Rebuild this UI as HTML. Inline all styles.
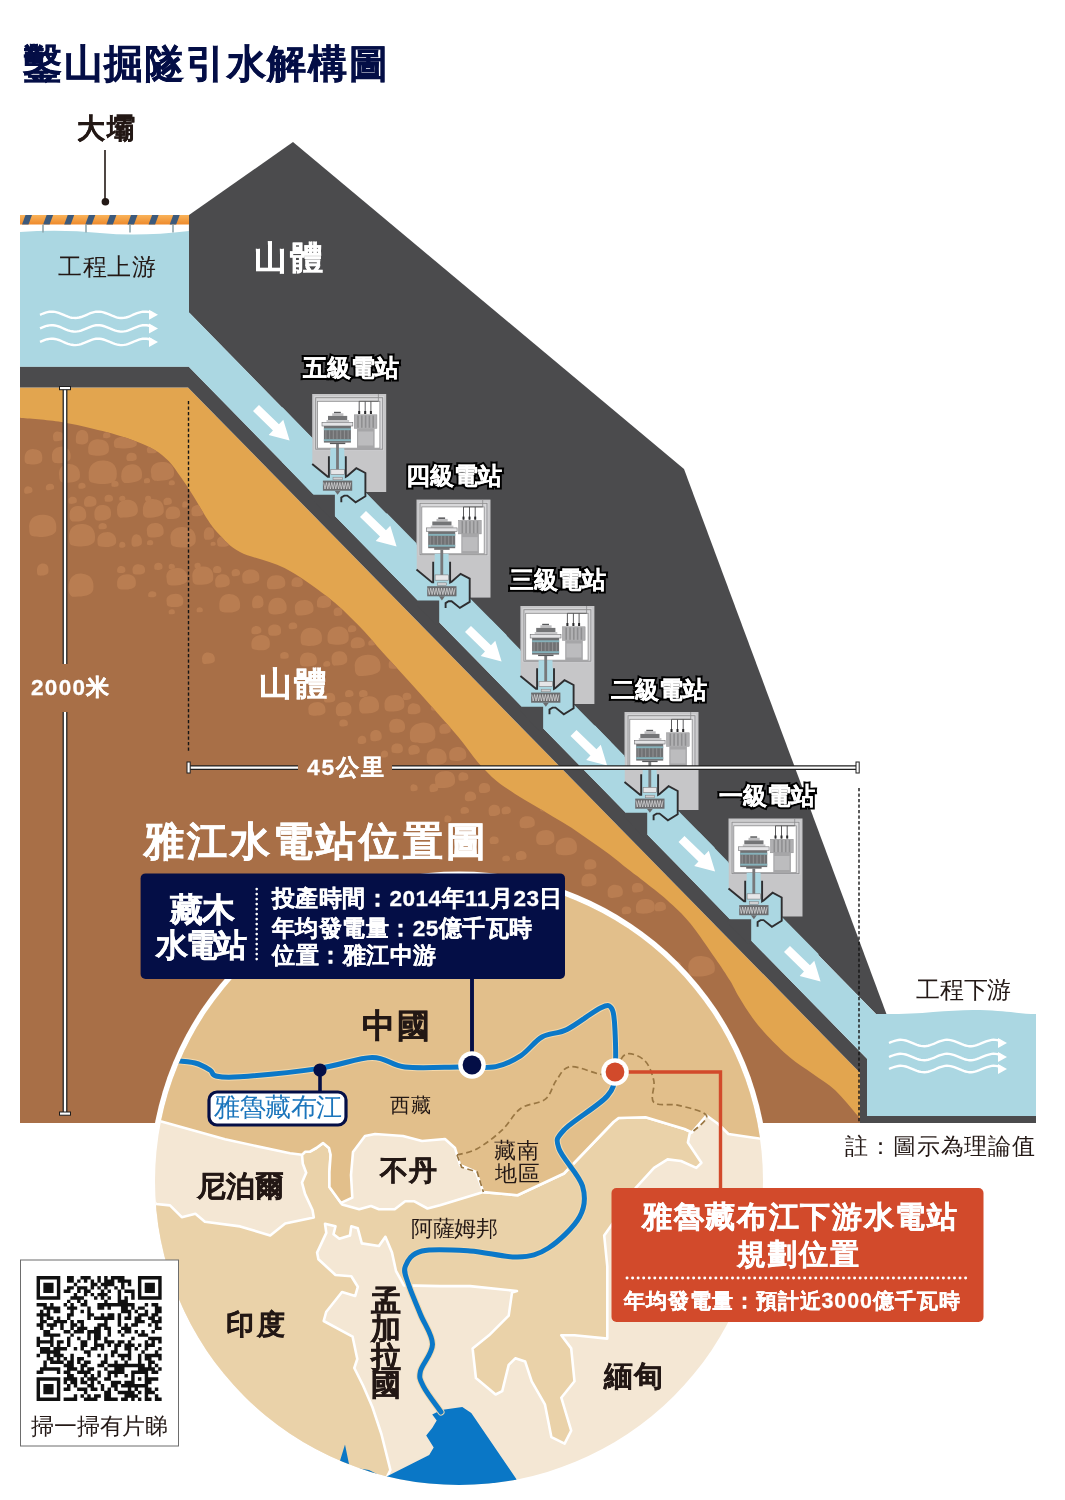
<!DOCTYPE html>
<html><head><meta charset="utf-8"><style>
html,body{margin:0;padding:0;background:#fff;}
body{width:1065px;height:1500px;position:relative;overflow:hidden;font-family:"Liberation Sans",sans-serif;}
svg{position:absolute;left:0;top:0;}
.t{position:absolute;white-space:nowrap;line-height:1;will-change:transform;}
</style></head><body>
<svg width="1065" height="1500" viewBox="0 0 1065 1500">
<defs><linearGradient id="og" x1="0" y1="0" x2="0" y2="1"><stop offset="0" stop-color="#f9b35a"/><stop offset="1" stop-color="#ee8a2c"/></linearGradient>
<clipPath id="circ"><circle cx="459" cy="1181" r="304"/></clipPath>
<clipPath id="brownclip"><path d="M20.0,417.7 C26.9,418.4 47.5,419.7 61.3,421.9 C75.1,424.1 90.5,428.0 102.6,431.1 C114.6,434.2 125.0,437.3 133.6,440.4 C142.2,443.5 148.5,446.2 154.3,449.7 C160.2,453.1 164.2,456.5 168.7,461.1 C173.2,465.8 177.0,471.8 181.1,477.6 C185.2,483.5 189.4,489.6 193.5,496.2 C197.6,502.8 201.8,510.7 205.9,516.9 C210.0,523.1 212.6,527.5 218.3,533.4 C224.0,539.2 229.0,546.2 240.0,552.0 C251.0,557.8 270.0,560.6 284.5,568.0 C299.0,575.4 314.6,586.9 326.8,596.3 C339.0,605.7 348.3,615.1 357.7,624.5 C367.1,633.9 374.5,643.3 383.0,652.7 C391.5,662.1 400.0,671.4 408.5,680.8 C417.0,690.2 425.4,699.5 433.8,709.0 C442.2,718.5 451.5,728.8 458.8,737.6 C466.1,746.4 471.4,754.8 477.6,762.0 C483.9,769.2 490.1,775.5 496.3,780.8 C502.6,786.1 508.8,789.8 515.1,793.9 C521.4,798.0 527.6,801.5 533.9,805.2 C540.2,809.0 546.4,812.6 552.7,816.4 C559.0,820.1 565.2,823.6 571.5,827.7 C577.8,831.8 584.0,836.4 590.2,840.8 C596.5,845.2 602.7,849.3 609.0,854.0 C615.3,858.7 622.0,864.5 627.8,869.0 C633.5,873.5 637.0,875.8 643.5,881.0 C650.0,886.2 659.2,892.9 667.0,900.0 C674.8,907.1 682.4,913.7 690.4,923.4 C698.4,933.1 708.4,948.5 715.0,958.0 C721.6,967.5 726.0,974.1 730.0,980.6 C734.0,987.1 735.2,990.8 739.0,997.0 C742.8,1003.2 747.8,1011.5 752.6,1018.0 C757.4,1024.5 761.4,1029.4 767.6,1036.0 C773.8,1042.6 782.5,1051.2 790.0,1057.5 C797.5,1063.8 805.2,1068.2 812.7,1073.7 C820.2,1079.2 827.7,1083.2 835.2,1090.2 C842.7,1097.2 852.8,1110.3 857.6,1115.4 C862.4,1120.5 862.9,1120.1 864.0,1121.0 L860,1123 L20,1123 Z"/></clipPath></defs>
<path d="M20,387.4 L188,387.4 L860,1072.8 L860,1123 L20,1123 Z" fill="#e2a54f"/>
<path d="M20.0,417.7 C26.9,418.4 47.5,419.7 61.3,421.9 C75.1,424.1 90.5,428.0 102.6,431.1 C114.6,434.2 125.0,437.3 133.6,440.4 C142.2,443.5 148.5,446.2 154.3,449.7 C160.2,453.1 164.2,456.5 168.7,461.1 C173.2,465.8 177.0,471.8 181.1,477.6 C185.2,483.5 189.4,489.6 193.5,496.2 C197.6,502.8 201.8,510.7 205.9,516.9 C210.0,523.1 212.6,527.5 218.3,533.4 C224.0,539.2 229.0,546.2 240.0,552.0 C251.0,557.8 270.0,560.6 284.5,568.0 C299.0,575.4 314.6,586.9 326.8,596.3 C339.0,605.7 348.3,615.1 357.7,624.5 C367.1,633.9 374.5,643.3 383.0,652.7 C391.5,662.1 400.0,671.4 408.5,680.8 C417.0,690.2 425.4,699.5 433.8,709.0 C442.2,718.5 451.5,728.8 458.8,737.6 C466.1,746.4 471.4,754.8 477.6,762.0 C483.9,769.2 490.1,775.5 496.3,780.8 C502.6,786.1 508.8,789.8 515.1,793.9 C521.4,798.0 527.6,801.5 533.9,805.2 C540.2,809.0 546.4,812.6 552.7,816.4 C559.0,820.1 565.2,823.6 571.5,827.7 C577.8,831.8 584.0,836.4 590.2,840.8 C596.5,845.2 602.7,849.3 609.0,854.0 C615.3,858.7 622.0,864.5 627.8,869.0 C633.5,873.5 637.0,875.8 643.5,881.0 C650.0,886.2 659.2,892.9 667.0,900.0 C674.8,907.1 682.4,913.7 690.4,923.4 C698.4,933.1 708.4,948.5 715.0,958.0 C721.6,967.5 726.0,974.1 730.0,980.6 C734.0,987.1 735.2,990.8 739.0,997.0 C742.8,1003.2 747.8,1011.5 752.6,1018.0 C757.4,1024.5 761.4,1029.4 767.6,1036.0 C773.8,1042.6 782.5,1051.2 790.0,1057.5 C797.5,1063.8 805.2,1068.2 812.7,1073.7 C820.2,1079.2 827.7,1083.2 835.2,1090.2 C842.7,1097.2 852.8,1110.3 857.6,1115.4 C862.4,1120.5 862.9,1120.1 864.0,1121.0 L860,1123 L20,1123 Z" fill="#a86f47"/>
<g clip-path="url(#brownclip)" fill="#b97d51">
<path d="M53.1,437.7 C52.4,433.1 55.6,431.2 58.7,431.7 C62.6,431.9 63.9,434.3 63.4,438.2 C62.9,441.2 57.2,441.1 54.6,441.2 C53.3,440.2 53.1,439.1 53.1,437.7 Z"/>
<path d="M75.8,439.5 C75.8,432.3 78.9,429.9 82.6,430.1 C87.4,430.4 88.8,434.4 88.2,440.2 C87.5,445.2 80.7,444.9 77.6,443.8 C76.0,443.4 75.8,441.7 75.8,439.5 Z"/>
<path d="M103.1,436.2 C102.8,433.1 105.0,432.2 107.1,432.2 C109.7,432.3 110.7,434.0 110.4,436.5 C110.0,438.1 106.0,438.5 104.2,438.1 C103.3,437.9 103.1,437.1 103.1,436.2 Z"/>
<path d="M88.2,450.2 C87.6,441.9 93.3,438.4 99.5,439.4 C107.2,439.7 109.9,444.6 108.8,451.0 C107.8,456.4 96.4,456.3 91.3,455.0 C88.6,454.6 88.2,452.6 88.2,450.2 Z"/>
<path d="M114.0,444.4 C112.6,438.2 119.7,436.5 126.5,436.3 C133.5,436.6 137.8,439.8 136.7,445.0 C135.6,448.3 123.1,449.0 117.4,448.1 C114.4,447.7 114.0,446.2 114.0,444.4 Z"/>
<path d="M147.0,450.8 C146.0,447.2 149.6,445.7 152.7,446.1 C156.2,446.3 157.9,448.2 157.4,451.2 C156.9,453.4 151.2,453.5 148.6,453.3 C147.2,452.8 147.0,451.9 147.0,450.8 Z"/>
<path d="M24.6,459.3 C24.3,451.5 29.0,448.2 34.3,449.2 C40.7,449.5 43.1,453.6 42.2,460.1 C41.3,465.3 31.7,465.0 27.3,464.1 C25.0,463.5 24.6,461.6 24.6,459.3 Z"/>
<path d="M52.0,457.4 C51.4,449.1 56.7,446.9 62.2,446.6 C68.2,447.0 71.5,451.9 70.6,458.2 C69.7,462.8 59.5,463.5 54.8,463.0 C52.4,461.8 52.0,459.9 52.0,457.4 Z"/>
<path d="M126.4,458.2 C126.4,454.1 129.0,452.5 132.1,452.8 C135.5,453.0 137.2,455.4 136.7,458.6 C136.2,461.4 130.5,461.3 127.9,460.9 C126.6,460.4 126.4,459.4 126.4,458.2 Z"/>
<path d="M88.7,476.0 C87.9,464.1 95.7,460.2 104.0,460.6 C114.2,461.1 118.0,468.1 116.6,477.2 C115.2,485.5 99.8,484.8 92.9,482.8 C89.2,482.4 88.7,479.6 88.7,476.0 Z"/>
<path d="M59.2,476.3 C57.6,467.0 64.4,463.2 70.6,464.2 C77.0,464.6 80.9,469.6 79.9,477.2 C78.9,482.5 67.5,483.2 62.3,482.6 C59.7,481.3 59.2,479.1 59.2,476.3 Z"/>
<path d="M121.2,476.3 C121.3,467.0 126.4,464.7 132.6,464.2 C139.3,464.6 142.9,469.4 141.9,477.2 C140.8,482.2 129.5,483.2 124.3,482.9 C121.6,481.3 121.2,479.1 121.2,476.3 Z"/>
<path d="M151.2,474.2 C149.0,464.9 156.9,460.9 163.7,462.1 C171.3,462.5 175.0,467.8 173.9,475.1 C172.8,480.8 160.3,481.1 154.6,480.8 C151.6,479.2 151.2,477.0 151.2,474.2 Z"/>
<path d="M24.1,491.1 C24.1,487.5 26.2,486.1 28.7,486.4 C31.8,486.6 32.8,488.5 32.4,491.5 C32.0,493.3 27.4,493.8 25.4,493.8 C24.3,493.1 24.1,492.2 24.1,491.1 Z"/>
<path d="M45.8,487.9 C45.8,484.8 47.9,483.8 50.4,483.8 C53.3,483.9 54.5,485.6 54.1,488.2 C53.7,489.9 49.1,490.1 47.1,490.2 C46.0,489.5 45.8,488.8 45.8,487.9 Z"/>
<path d="M78.4,486.8 C78.0,483.7 80.2,482.8 82.3,482.8 C84.8,482.9 85.9,484.7 85.6,487.1 C85.2,488.7 81.2,489.1 79.4,488.7 C78.5,488.5 78.4,487.7 78.4,486.8 Z"/>
<path d="M111.4,484.8 C110.9,481.7 113.2,480.3 115.4,480.7 C117.7,480.9 119.0,482.7 118.6,485.1 C118.3,487.2 114.3,487.0 112.5,486.8 C111.6,486.4 111.4,485.7 111.4,484.8 Z"/>
<path d="M143.9,481.5 C143.7,478.9 145.5,478.2 147.3,478.1 C149.6,478.2 150.4,479.6 150.1,481.8 C149.8,483.3 146.4,483.4 144.9,483.2 C144.1,482.9 143.9,482.3 143.9,481.5 Z"/>
<path d="M168.7,483.6 C168.7,481.0 170.3,479.9 172.1,480.2 C174.1,480.3 175.2,481.8 174.9,483.8 C174.6,485.5 171.2,485.5 169.7,485.1 C168.9,485.0 168.7,484.3 168.7,483.6 Z"/>
<path d="M68.5,501.4 C67.9,497.8 70.6,496.3 73.1,496.7 C76.1,496.9 77.2,498.8 76.8,501.8 C76.4,503.7 71.8,504.1 69.8,503.8 C68.7,503.4 68.5,502.5 68.5,501.4 Z"/>
<path d="M84.0,502.9 C83.9,497.8 87.1,495.6 90.9,496.2 C95.0,496.4 97.1,499.3 96.4,503.4 C95.8,507.1 89.0,506.8 85.9,506.7 C84.3,505.7 84.0,504.5 84.0,502.9 Z"/>
<path d="M104.7,499.4 C103.8,495.8 106.8,494.6 109.2,494.7 C112.1,494.8 113.4,496.8 113.0,499.7 C112.5,501.9 108.0,502.0 105.9,501.6 C104.9,501.3 104.7,500.5 104.7,499.4 Z"/>
<path d="M119.2,499.1 C118.9,496.5 120.7,495.8 122.6,495.7 C124.7,495.8 125.7,497.2 125.4,499.3 C125.0,501.1 121.6,501.0 120.1,500.8 C119.3,500.5 119.2,499.8 119.2,499.1 Z"/>
<path d="M117.1,511.2 C116.1,502.5 122.3,499.8 128.4,499.8 C135.0,500.2 138.8,505.3 137.7,512.1 C136.7,517.9 125.4,517.7 120.2,517.7 C117.5,516.0 117.1,513.9 117.1,511.2 Z"/>
<path d="M94.4,515.1 C93.8,507.3 98.5,504.2 103.5,505.0 C109.6,505.3 111.7,509.5 110.9,515.8 C110.1,520.7 101.0,520.8 96.8,520.6 C94.7,519.3 94.4,517.4 94.4,515.1 Z"/>
<path d="M69.6,516.1 C69.0,508.4 73.7,505.4 78.7,506.0 C84.2,506.3 86.9,510.7 86.1,516.9 C85.3,521.9 76.2,521.8 72.1,521.5 C69.9,520.3 69.6,518.4 69.6,516.1 Z"/>
<path d="M142.9,511.4 C142.3,502.1 148.1,498.1 154.3,499.3 C161.7,499.7 164.6,504.8 163.6,512.3 C162.5,517.0 151.2,518.3 146.0,517.6 C143.3,516.4 142.9,514.2 142.9,511.4 Z"/>
<path d="M165.6,514.6 C165.3,508.4 169.2,506.1 173.6,506.5 C178.6,506.8 180.8,510.1 180.1,515.2 C179.4,519.1 171.4,519.2 167.8,519.0 C165.9,517.9 165.6,516.5 165.6,514.6 Z"/>
<path d="M145.0,499.1 C144.8,496.5 146.5,495.5 148.4,495.7 C150.7,495.8 151.5,497.2 151.2,499.3 C150.9,500.8 147.5,501.0 145.9,500.9 C145.1,500.5 145.0,499.8 145.0,499.1 Z"/>
<path d="M163.6,502.5 C162.8,498.9 165.6,497.5 168.1,497.8 C171.3,497.9 172.2,499.8 171.8,502.8 C171.4,505.0 166.9,505.1 164.8,504.9 C163.7,504.4 163.6,503.6 163.6,502.5 Z"/>
<path d="M182.2,505.4 C182.1,502.3 183.7,501.0 185.6,501.4 C188.0,501.5 188.7,503.2 188.4,505.7 C188.0,507.7 184.6,507.7 183.1,507.6 C182.3,507.1 182.2,506.3 182.2,505.4 Z"/>
<path d="M191.5,512.4 C190.5,506.7 194.6,505.2 198.3,505.0 C202.9,505.2 204.5,508.4 203.8,513.0 C203.2,516.5 196.4,516.6 193.3,516.0 C191.7,515.5 191.5,514.1 191.5,512.4 Z"/>
<path d="M29.3,529.6 C27.6,518.2 36.0,513.7 44.1,514.8 C53.8,515.3 57.5,521.4 56.1,530.7 C54.8,536.5 40.0,538.0 33.3,536.3 C29.8,535.7 29.3,533.0 29.3,529.6 Z"/>
<path d="M69.1,538.9 C67.9,527.5 75.5,523.3 83.3,524.1 C91.7,524.6 96.2,530.8 94.9,540.0 C93.6,547.1 79.4,547.3 72.9,545.4 C69.6,545.0 69.1,542.3 69.1,538.9 Z"/>
<path d="M97.5,541.9 C96.6,534.2 102.1,532.0 107.7,531.9 C113.5,532.2 117.0,536.7 116.1,542.7 C115.1,547.1 104.9,547.7 100.3,546.6 C97.8,546.1 97.5,544.2 97.5,541.9 Z"/>
<path d="M98.5,527.1 C98.4,524.0 100.6,523.2 103.0,523.1 C105.9,523.2 107.2,525.0 106.8,527.4 C106.3,529.3 101.8,529.4 99.7,529.2 C98.7,528.8 98.5,528.0 98.5,527.1 Z"/>
<path d="M131.5,542.5 C131.3,536.3 134.1,533.7 137.2,534.4 C140.4,534.7 142.4,538.2 141.9,543.1 C141.4,546.6 135.7,547.1 133.1,546.5 C131.8,545.8 131.5,544.3 131.5,542.5 Z"/>
<path d="M119.2,545.7 C119.1,542.6 120.7,541.3 122.6,541.7 C124.7,541.8 125.7,543.6 125.4,546.0 C125.0,547.9 121.6,548.0 120.1,547.5 C119.3,547.4 119.2,546.6 119.2,545.7 Z"/>
<path d="M147.0,543.5 C146.7,540.9 148.6,540.1 150.4,540.1 C152.7,540.2 153.5,541.6 153.2,543.7 C152.9,545.4 149.5,545.4 148.0,545.1 C147.2,544.9 147.0,544.2 147.0,543.5 Z"/>
<path d="M147.0,532.5 C145.6,525.2 151.2,522.6 156.1,523.1 C161.7,523.4 164.4,527.6 163.6,533.2 C162.7,537.7 153.7,537.8 149.5,537.3 C147.4,536.4 147.0,534.6 147.0,532.5 Z"/>
<path d="M170.8,540.6 C168.3,530.3 177.0,525.8 184.4,527.2 C193.3,527.6 196.8,533.5 195.6,541.7 C194.3,548.7 180.7,548.3 174.5,546.5 C171.3,546.2 170.8,543.7 170.8,540.6 Z"/>
<path d="M203.8,535.3 C203.8,529.1 206.4,526.9 209.5,527.2 C213.2,527.5 214.7,531.1 214.2,535.9 C213.7,539.8 208.0,539.8 205.4,539.8 C204.1,538.6 203.8,537.1 203.8,535.3 Z"/>
<path d="M210.6,544.3 C210.4,542.3 211.9,541.6 213.4,541.7 C215.1,541.7 216.0,542.9 215.7,544.6 C215.5,546.0 212.6,545.9 211.3,545.7 C210.7,545.5 210.6,545.0 210.6,544.3 Z"/>
<path d="M217.3,543.2 C216.0,538.0 220.4,535.8 224.1,536.5 C228.5,536.7 230.3,539.7 229.7,543.7 C229.0,547.3 222.2,547.0 219.1,546.6 C217.5,546.0 217.3,544.8 217.3,543.2 Z"/>
<path d="M37.0,571.4 C36.6,565.2 39.9,563.3 43.3,563.4 C47.7,563.6 49.0,567.1 48.4,572.0 C47.8,575.5 41.6,576.0 38.7,575.5 C37.3,574.8 37.0,573.3 37.0,571.4 Z"/>
<path d="M68.5,588.5 C68.3,577.1 74.7,572.9 82.2,573.7 C90.7,574.1 94.6,580.7 93.3,589.6 C92.1,597.0 78.5,596.9 72.3,596.7 C69.0,594.6 68.5,591.9 68.5,588.5 Z"/>
<path d="M117.1,570.6 C117.1,567.0 119.2,565.8 121.6,565.9 C124.4,566.1 125.8,568.0 125.4,571.0 C124.9,573.4 120.4,573.3 118.3,572.8 C117.3,572.6 117.1,571.7 117.1,570.6 Z"/>
<path d="M117.1,584.3 C116.6,576.5 121.7,574.4 127.3,574.2 C134.5,574.5 136.6,579.0 135.7,585.0 C134.7,589.9 124.5,590.0 119.9,589.3 C117.5,588.5 117.1,586.6 117.1,584.3 Z"/>
<path d="M132.6,571.1 C131.8,565.9 135.7,564.1 139.4,564.4 C144.0,564.6 145.6,567.6 145.0,571.6 C144.4,575.0 137.5,574.9 134.4,574.3 C132.8,573.9 132.6,572.6 132.6,571.1 Z"/>
<path d="M154.3,567.5 C153.8,563.9 156.3,562.8 158.8,562.8 C161.6,563.0 162.9,565.0 162.5,567.9 C162.1,570.0 157.6,570.2 155.5,569.8 C154.4,569.5 154.3,568.6 154.3,567.5 Z"/>
<path d="M168.7,567.2 C168.3,564.6 170.3,563.7 172.1,563.9 C174.1,564.0 175.2,565.5 174.9,567.5 C174.6,569.0 171.2,569.1 169.7,569.1 C168.9,568.6 168.7,568.0 168.7,567.2 Z"/>
<path d="M166.7,579.4 C164.7,570.6 171.8,567.6 178.0,568.0 C184.5,568.4 188.4,573.1 187.3,580.3 C186.3,585.4 174.9,585.9 169.8,585.3 C167.1,584.2 166.7,582.0 166.7,579.4 Z"/>
<path d="M192.5,578.5 C191.0,569.2 197.6,565.8 203.8,566.5 C211.0,566.8 214.2,571.7 213.1,579.5 C212.1,584.8 200.7,585.4 195.6,584.5 C192.9,583.6 192.5,581.3 192.5,578.5 Z"/>
<path d="M194.6,566.2 C194.0,563.6 196.1,562.9 198.0,562.8 C200.0,562.9 201.1,564.3 200.7,566.5 C200.4,567.8 197.0,568.1 195.5,568.1 C194.7,567.6 194.6,567.0 194.6,566.2 Z"/>
<path d="M213.1,570.6 C212.6,567.0 215.2,565.8 217.7,565.9 C220.4,566.1 221.8,568.0 221.4,571.0 C221.0,573.5 216.4,573.3 214.4,572.8 C213.3,572.6 213.1,571.7 213.1,570.6 Z"/>
<path d="M215.2,582.9 C214.5,576.2 218.8,573.9 223.2,574.2 C228.2,574.5 230.4,578.3 229.7,583.6 C228.9,587.2 221.0,587.9 217.4,587.5 C215.5,586.6 215.2,584.9 215.2,582.9 Z"/>
<path d="M231.7,573.7 C231.0,570.1 233.8,569.2 236.3,569.0 C239.0,569.2 240.4,571.1 240.0,574.1 C239.6,576.5 235.0,576.4 233.0,576.2 C231.9,575.7 231.7,574.8 231.7,573.7 Z"/>
<path d="M148.1,595.3 C148.1,592.2 150.1,591.0 152.6,591.2 C155.8,591.4 156.7,593.0 156.3,595.6 C155.9,597.6 151.4,597.6 149.3,597.0 C148.2,596.9 148.1,596.2 148.1,595.3 Z"/>
<path d="M166.7,602.6 C165.2,595.8 170.8,593.9 175.8,593.8 C181.7,594.1 184.0,597.6 183.2,603.2 C182.4,607.5 173.3,607.5 169.1,606.5 C167.0,606.2 166.7,604.6 166.7,602.6 Z"/>
<path d="M219.3,606.4 C218.8,597.1 224.5,593.2 230.7,594.3 C237.4,594.7 241.0,599.8 240.0,607.4 C239.0,612.8 227.6,613.3 222.4,612.0 C219.8,611.4 219.3,609.2 219.3,606.4 Z"/>
<path d="M168.7,612.7 C168.3,610.1 170.3,609.5 172.1,609.3 C174.1,609.4 175.2,610.9 174.9,612.9 C174.6,614.3 171.2,614.6 169.7,614.2 C168.9,614.1 168.7,613.4 168.7,612.7 Z"/>
<path d="M196.6,610.6 C196.3,608.0 198.2,607.0 200.0,607.2 C202.4,607.4 203.1,608.9 202.8,610.9 C202.5,612.4 199.1,612.5 197.5,612.2 C196.7,612.0 196.6,611.4 196.6,610.6 Z"/>
<path d="M242.3,578.7 C241.2,571.7 246.5,569.3 251.5,569.6 C258.1,569.9 260.0,573.9 259.2,579.4 C258.3,583.0 249.0,583.9 244.8,583.6 C242.6,582.5 242.3,580.8 242.3,578.7 Z"/>
<path d="M266.9,584.4 C266.7,577.3 271.5,574.7 277.0,575.2 C283.4,575.5 286.1,579.2 285.2,585.1 C284.3,589.4 274.2,589.6 269.6,589.2 C267.3,588.2 266.9,586.5 266.9,584.4 Z"/>
<path d="M291.5,583.7 C291.3,578.8 294.4,577.1 297.7,577.3 C301.5,577.5 303.4,580.2 302.8,584.2 C302.3,587.2 296.1,587.4 293.2,586.6 C291.8,586.4 291.5,585.2 291.5,583.7 Z"/>
<path d="M252.1,603.9 C251.9,597.5 254.9,595.6 258.3,595.6 C262.5,595.9 263.9,599.6 263.4,604.5 C262.8,608.6 256.6,608.6 253.8,608.2 C252.3,607.3 252.1,605.8 252.1,603.9 Z"/>
<path d="M268.3,608.7 C268.2,600.3 272.9,597.1 278.4,597.7 C284.2,598.1 287.5,603.1 286.6,609.6 C285.7,614.8 275.6,615.0 271.1,613.9 C268.7,613.3 268.3,611.3 268.3,608.7 Z"/>
<path d="M295.1,609.9 C293.4,602.2 299.6,599.6 305.1,599.9 C311.3,600.2 314.3,604.3 313.4,610.7 C312.5,614.6 302.4,615.7 297.8,615.4 C295.4,614.1 295.1,612.3 295.1,609.9 Z"/>
<path d="M316.9,603.9 C316.9,597.5 320.4,595.8 324.6,595.6 C330.1,595.9 331.7,599.3 331.0,604.5 C330.3,608.0 322.5,608.6 319.0,607.6 C317.2,607.3 316.9,605.8 316.9,603.9 Z"/>
<path d="M333.8,613.1 C332.9,608.9 335.9,607.3 338.5,607.6 C341.6,607.8 342.7,610.3 342.3,613.5 C341.8,616.2 337.2,616.2 335.1,615.8 C334.0,615.4 333.8,614.4 333.8,613.1 Z"/>
<path d="M251.4,631.4 C251.2,627.2 253.9,625.9 256.8,625.9 C260.4,626.1 261.8,628.5 261.3,631.8 C260.8,634.3 255.4,634.5 252.9,633.9 C251.6,633.7 251.4,632.7 251.4,631.4 Z"/>
<path d="M268.3,631.8 C267.2,626.2 271.5,624.1 275.3,624.5 C280.0,624.7 281.6,627.9 281.0,632.4 C280.4,636.2 273.4,636.0 270.2,635.6 C268.6,634.9 268.3,633.5 268.3,631.8 Z"/>
<path d="M288.7,627.0 C288.2,623.5 290.8,622.2 293.4,622.4 C296.5,622.5 297.6,624.5 297.2,627.3 C296.8,629.2 292.1,629.6 290.0,629.0 C288.9,628.9 288.7,628.0 288.7,627.0 Z"/>
<path d="M251.4,645.1 C251.1,637.4 256.0,635.5 261.5,635.1 C268.5,635.4 270.6,639.7 269.7,645.9 C268.8,651.0 258.7,650.9 254.2,649.5 C251.8,649.3 251.4,647.5 251.4,645.1 Z"/>
<path d="M300.7,639.9 C299.7,630.8 306.0,626.9 312.3,628.0 C319.9,628.4 322.9,633.6 321.8,640.8 C320.8,646.3 309.2,646.7 303.9,645.3 C301.1,644.9 300.7,642.7 300.7,639.9 Z"/>
<path d="M327.5,638.5 C327.2,629.4 332.7,626.9 339.1,626.6 C346.3,627.0 349.6,632.2 348.6,639.4 C347.5,645.6 335.9,645.3 330.6,644.0 C327.9,643.5 327.5,641.3 327.5,638.5 Z"/>
<path d="M350.7,644.5 C350.4,638.9 354.2,637.2 358.5,637.2 C363.0,637.4 365.5,640.7 364.8,645.1 C364.1,648.2 356.3,648.7 352.8,648.2 C351.0,647.5 350.7,646.2 350.7,644.5 Z"/>
<path d="M347.9,629.8 C347.9,626.3 350.0,624.8 352.5,625.2 C355.4,625.4 356.8,627.2 356.3,630.1 C355.9,632.4 351.3,632.4 349.2,632.2 C348.1,631.7 347.9,630.8 347.9,629.8 Z"/>
<path d="M202.1,660.0 C201.5,654.4 205.3,651.9 209.1,652.7 C213.1,652.9 215.4,656.0 214.8,660.6 C214.2,663.7 207.2,664.2 204.0,663.9 C202.4,663.0 202.1,661.7 202.1,660.0 Z"/>
<path d="M280.3,656.5 C279.6,653.0 282.4,652.1 284.9,652.0 C287.7,652.1 289.2,654.2 288.7,656.9 C288.3,658.8 283.7,659.2 281.5,658.6 C280.5,658.5 280.3,657.6 280.3,656.5 Z"/>
<path d="M300.0,661.8 C299.3,654.8 304.2,651.7 309.3,652.7 C315.0,653.0 317.7,657.0 316.9,662.5 C316.1,666.7 306.8,667.0 302.5,666.2 C300.3,665.6 300.0,663.9 300.0,661.8 Z"/>
<path d="M331.7,660.4 C330.5,653.4 335.6,650.7 340.2,651.3 C345.2,651.5 348.0,655.6 347.2,661.1 C346.4,665.6 337.9,665.6 334.0,665.7 C332.0,664.2 331.7,662.5 331.7,660.4 Z"/>
<path d="M354.9,668.5 C353.3,658.0 361.3,654.5 368.9,654.8 C378.7,655.2 381.5,661.5 380.3,669.6 C379.0,675.0 365.1,676.3 358.7,676.1 C355.4,674.2 354.9,671.7 354.9,668.5 Z"/>
<path d="M388.7,665.4 C388.3,660.5 391.5,659.3 394.9,659.0 C398.9,659.2 400.6,661.8 400.0,665.9 C399.4,668.9 393.2,669.1 390.4,668.5 C389.0,668.1 388.7,666.9 388.7,665.4 Z"/>
<path d="M323.2,664.8 C323.2,662.0 325.0,661.3 327.1,661.1 C329.8,661.2 330.6,662.8 330.3,665.1 C329.9,667.0 326.1,666.9 324.3,666.4 C323.4,666.3 323.2,665.6 323.2,664.8 Z"/>
<path d="M368.3,643.7 C368.2,640.8 370.1,640.2 372.2,640.0 C374.6,640.1 375.7,641.8 375.4,643.9 C375.0,645.5 371.1,645.7 369.4,645.5 C368.5,645.2 368.3,644.5 368.3,643.7 Z"/>
<path d="M323.9,699.2 C323.6,694.3 326.8,693.1 330.1,692.8 C333.7,693.0 335.8,695.6 335.2,699.7 C334.6,702.4 328.5,702.9 325.6,702.5 C324.2,701.9 323.9,700.7 323.9,699.2 Z"/>
<path d="M345.1,694.6 C344.7,691.1 347.2,689.8 349.7,690.0 C352.4,690.1 353.9,692.2 353.5,694.9 C353.1,696.8 348.5,697.2 346.3,696.9 C345.2,696.5 345.1,695.6 345.1,694.6 Z"/>
<path d="M359.2,694.6 C358.3,691.1 361.3,689.8 363.8,690.0 C367.0,690.1 368.0,692.2 367.6,694.9 C367.2,696.7 362.5,697.2 360.4,696.9 C359.3,696.5 359.2,695.6 359.2,694.6 Z"/>
<path d="M359.2,707.3 C358.2,698.9 364.1,695.9 370.0,696.3 C376.7,696.7 379.9,701.3 378.9,708.2 C377.9,713.6 367.0,713.6 362.1,713.6 C359.5,711.9 359.2,709.9 359.2,707.3 Z"/>
<path d="M384.5,705.9 C383.9,697.5 389.4,694.7 395.4,694.9 C402.8,695.3 405.2,700.2 404.2,706.8 C403.2,711.2 392.4,712.2 387.5,711.2 C384.9,710.5 384.5,708.5 384.5,705.9 Z"/>
<path d="M407.7,710.7 C407.7,705.1 410.9,702.8 414.7,703.4 C419.5,703.6 421.1,706.8 420.4,711.3 C419.8,714.2 412.8,714.9 409.6,714.0 C408.0,713.7 407.7,712.4 407.7,710.7 Z"/>
<path d="M431.0,707.7 C430.7,702.7 433.8,701.5 437.2,701.3 C441.1,701.5 442.8,704.2 442.3,708.2 C441.7,710.9 435.5,711.3 432.7,710.5 C431.2,710.3 431.0,709.2 431.0,707.7 Z"/>
<path d="M308.5,711.1 C307.2,704.1 312.7,702.4 317.7,702.0 C323.3,702.3 326.2,706.3 325.4,711.8 C324.5,715.9 315.2,716.3 311.0,715.2 C308.8,714.9 308.5,713.2 308.5,711.1 Z"/>
<path d="M335.9,711.1 C335.3,704.1 339.8,702.0 344.4,702.0 C350.2,702.3 352.2,706.2 351.4,711.8 C350.6,716.6 342.1,716.3 338.2,716.0 C336.2,714.9 335.9,713.2 335.9,711.1 Z"/>
<path d="M402.8,697.4 C402.2,693.9 404.9,692.6 407.5,692.8 C410.4,693.0 411.7,694.8 411.3,697.7 C410.8,700.0 406.2,700.0 404.1,700.0 C403.0,699.3 402.8,698.5 402.8,697.4 Z"/>
<path d="M339.4,724.2 C338.8,720.6 341.5,719.3 344.1,719.6 C346.9,719.7 348.3,721.6 347.9,724.5 C347.5,726.5 342.8,726.8 340.7,726.2 C339.6,726.1 339.4,725.2 339.4,724.2 Z"/>
<path d="M357.7,741.3 C357.7,737.0 359.9,735.9 362.4,735.8 C365.2,735.9 366.6,738.3 366.2,741.7 C365.8,744.0 361.1,744.4 359.0,743.7 C357.9,743.5 357.7,742.5 357.7,741.3 Z"/>
<path d="M370.4,737.5 C369.5,731.8 373.2,729.8 376.6,730.1 C380.1,730.4 382.3,733.7 381.7,738.0 C381.1,741.0 374.9,741.6 372.1,741.0 C370.6,740.5 370.4,739.2 370.4,737.5 Z"/>
<path d="M389.4,728.0 C388.0,721.0 393.3,717.9 398.0,718.9 C403.5,719.2 405.7,723.3 404.9,728.7 C404.2,732.9 395.6,733.2 391.8,732.5 C389.7,731.8 389.4,730.1 389.4,728.0 Z"/>
<path d="M409.9,736.1 C409.1,725.6 416.2,723.0 423.8,722.4 C432.8,722.8 436.5,728.5 435.2,737.2 C433.9,744.0 420.0,743.9 413.7,742.3 C410.4,741.8 409.9,739.3 409.9,736.1 Z"/>
<path d="M439.4,730.2 C438.8,725.3 442.3,723.9 445.6,723.8 C449.8,724.0 451.3,726.8 450.7,730.7 C450.1,734.1 443.9,733.9 441.1,733.7 C439.7,732.9 439.4,731.7 439.4,730.2 Z"/>
<path d="M381.0,755.1 C380.9,751.6 382.7,750.6 384.9,750.6 C387.6,750.7 388.4,752.7 388.0,755.5 C387.7,757.6 383.8,757.7 382.0,757.4 C381.1,757.0 381.0,756.2 381.0,755.1 Z"/>
<path d="M391.5,749.9 C390.7,745.0 394.4,742.9 397.7,743.5 C401.7,743.7 403.4,746.3 402.8,750.4 C402.3,753.5 396.1,753.6 393.2,752.8 C391.8,752.6 391.5,751.4 391.5,749.9 Z"/>
<path d="M408.5,751.3 C407.5,746.4 411.3,744.8 414.6,744.9 C418.2,745.1 420.3,747.7 419.7,751.8 C419.2,754.3 413.0,755.0 410.1,754.7 C408.7,754.0 408.5,752.8 408.5,751.3 Z"/>
<path d="M426.8,759.4 C425.8,751.0 431.7,747.4 437.6,748.5 C444.3,748.8 447.5,753.7 446.5,760.3 C445.5,765.0 434.6,765.7 429.7,764.5 C427.2,764.0 426.8,762.0 426.8,759.4 Z"/>
<path d="M449.3,756.2 C448.3,749.2 453.5,747.0 458.6,747.0 C464.8,747.3 467.0,751.4 466.2,756.9 C465.4,760.9 456.1,761.4 451.8,760.5 C449.6,760.0 449.3,758.3 449.3,756.2 Z"/>
<path d="M410.6,788.9 C409.8,785.4 412.3,784.0 414.4,784.4 C417.1,784.5 418.0,786.4 417.6,789.3 C417.3,791.3 413.4,791.5 411.6,791.0 C410.7,790.8 410.6,790.0 410.6,788.9 Z"/>
<path d="M429.6,789.2 C428.8,784.9 431.7,783.5 434.2,783.7 C436.9,783.8 438.5,786.3 438.0,789.6 C437.6,791.8 433.0,792.3 430.8,792.1 C429.7,791.4 429.6,790.4 429.6,789.2 Z"/>
<path d="M435.2,782.0 C433.4,773.5 440.1,771.2 446.1,771.0 C453.4,771.3 455.9,776.2 454.9,782.8 C453.9,788.2 443.1,788.2 438.2,788.1 C435.6,786.5 435.2,784.5 435.2,782.0 Z"/>
<path d="M458.5,777.9 C457.8,773.7 460.9,772.0 463.9,772.4 C467.2,772.6 468.8,775.1 468.3,778.3 C467.8,780.9 462.4,781.0 459.9,780.7 C458.6,780.2 458.5,779.2 458.5,777.9 Z"/>
<path d="M464.8,797.8 C464.6,792.9 467.6,791.3 471.0,791.4 C474.8,791.6 476.6,794.6 476.1,798.3 C475.5,801.1 469.3,801.5 466.5,801.0 C465.0,800.5 464.8,799.3 464.8,797.8 Z"/>
<path d="M478.9,789.4 C478.3,784.4 481.7,782.6 485.1,783.0 C488.9,783.2 490.7,785.7 490.1,789.9 C489.6,793.1 483.4,793.0 480.6,793.0 C479.1,792.0 478.9,790.8 478.9,789.4 Z"/>
<path d="M488.7,812.1 C487.9,806.5 491.5,804.4 494.9,804.8 C498.9,805.0 500.6,808.0 500.0,812.7 C499.4,815.9 493.2,816.3 490.4,815.9 C489.0,815.2 488.7,813.8 488.7,812.1 Z"/>
<path d="M460.6,811.5 C460.0,808.0 462.7,806.7 465.2,806.9 C468.0,807.0 469.4,809.1 469.0,811.8 C468.6,813.7 463.9,814.1 461.8,813.7 C460.7,813.4 460.6,812.5 460.6,811.5 Z"/>
<path d="M444.4,819.9 C444.0,816.4 446.1,815.0 448.2,815.4 C450.8,815.5 451.8,817.5 451.4,820.3 C451.1,822.7 447.2,822.5 445.4,822.1 C444.5,821.8 444.4,821.0 444.4,819.9 Z"/>
<path d="M501.7,811.5 C501.0,807.7 503.9,806.8 506.7,806.6 C510.0,806.7 511.2,808.8 510.7,811.8 C510.3,814.4 505.3,814.2 503.0,814.2 C501.9,813.5 501.7,812.6 501.7,811.5 Z"/>
<path d="M519.7,824.2 C518.7,818.1 523.5,815.7 528.0,816.3 C533.5,816.6 535.5,819.9 534.7,824.8 C534.0,828.0 525.7,828.6 522.0,828.1 C520.0,827.4 519.7,826.0 519.7,824.2 Z"/>
<path d="M540.0,808.7 C539.0,804.2 542.6,802.9 545.8,802.8 C549.9,803.0 551.0,805.5 550.5,809.1 C550.0,811.7 544.2,812.0 541.6,811.2 C540.2,811.1 540.0,810.0 540.0,808.7 Z"/>
<path d="M536.2,839.6 C535.6,832.1 540.8,830.1 546.2,829.9 C552.7,830.2 555.2,834.1 554.3,840.4 C553.4,845.5 543.5,845.2 539.0,844.8 C536.6,843.7 536.2,841.9 536.2,839.6 Z"/>
<path d="M555.8,849.1 C555.0,840.1 561.0,837.8 567.3,837.4 C575.0,837.7 577.9,842.7 576.8,850.0 C575.8,855.8 564.2,855.8 558.9,854.8 C556.2,854.0 555.8,851.8 555.8,849.1 Z"/>
<path d="M516.0,856.8 C515.0,852.3 518.6,851.0 521.8,850.9 C525.3,851.1 527.0,853.7 526.5,857.2 C526.0,860.0 520.2,860.1 517.5,860.1 C516.2,859.2 516.0,858.1 516.0,856.8 Z"/>
<path d="M584.3,866.0 C584.2,860.7 587.3,858.8 590.9,859.2 C595.4,859.4 596.9,862.4 596.3,866.5 C595.7,869.2 589.1,869.9 586.1,869.5 C584.6,868.8 584.3,867.6 584.3,866.0 Z"/>
<path d="M489.7,841.5 C488.9,837.8 491.9,836.2 494.6,836.6 C498.0,836.8 499.1,838.9 498.7,841.9 C498.2,844.1 493.3,844.3 491.0,844.0 C489.9,843.5 489.7,842.6 489.7,841.5 Z"/>
<path d="M502.4,859.3 C501.7,856.3 504.3,855.4 506.6,855.4 C509.1,855.5 510.3,857.2 510.0,859.6 C509.6,861.7 505.5,861.5 503.6,861.1 C502.6,860.9 502.4,860.2 502.4,859.3 Z"/>
<path d="M581.4,882.2 C581.4,875.6 585.2,873.9 589.7,873.6 C595.0,873.9 597.2,877.5 596.4,882.8 C595.7,886.3 587.4,887.0 583.7,886.1 C581.7,885.7 581.4,884.1 581.4,882.2 Z"/>
<path d="M607.7,893.4 C606.8,886.9 611.5,884.4 616.0,884.9 C621.4,885.1 623.5,888.7 622.7,894.1 C622.0,897.5 613.7,898.3 610.0,897.7 C608.0,897.0 607.7,895.4 607.7,893.4 Z"/>
<path d="M632.1,889.1 C631.1,884.4 634.9,882.4 638.3,883.0 C642.1,883.2 643.9,885.7 643.4,889.6 C642.8,892.5 636.6,892.6 633.8,892.6 C632.3,891.6 632.1,890.5 632.1,889.1 Z"/>
<path d="M635.9,908.7 C635.5,901.2 640.6,898.4 646.2,899.0 C653.3,899.3 655.6,903.5 654.6,909.5 C653.7,913.4 643.4,914.3 638.7,913.2 C636.2,912.8 635.9,911.0 635.9,908.7 Z"/>
<path d="M654.6,907.9 C654.5,903.2 657.5,902.0 660.8,901.8 C664.5,902.0 666.5,904.6 665.9,908.4 C665.4,910.8 659.2,911.4 656.3,911.2 C654.9,910.4 654.6,909.3 654.6,907.9 Z"/>
<path d="M621.8,911.4 C621.1,907.6 624.1,906.1 626.9,906.5 C630.5,906.6 631.6,908.7 631.2,911.7 C630.7,914.3 625.5,914.1 623.2,914.2 C622.0,913.4 621.8,912.5 621.8,911.4 Z"/>
<path d="M688.5,969.7 C686.8,959.3 695.0,954.8 702.9,956.2 C711.3,956.7 716.1,962.8 714.7,970.7 C713.4,976.0 699.0,977.3 692.4,975.9 C689.0,975.2 688.5,972.8 688.5,969.7 Z"/>
<path d="M673.4,965.7 C673.2,962.3 675.3,961.2 677.6,961.3 C680.3,961.4 681.3,963.3 680.9,966.0 C680.6,967.8 676.4,968.2 674.6,967.9 C673.6,967.5 673.4,966.7 673.4,965.7 Z"/>
</g>
<path d="M20,366.5 L188.7,366.5 L867,1058.7 L867,1116 L1036,1116 L1036,1123 L860,1123 L860,1072.8 L188,387.4 L20,387.4 Z" fill="#4b4b4d"/>
<path d="M189,215 L293,142 L684,469 L887,1015.4 L876,1014 L188.7,312.3 Z" fill="#4b4b4d"/>
<path d="M20,232 Q60,229 100,233 T189,231 L189,312.3 L876,1014 C920,1015 950,1009 980,1010 S1020,1014 1036,1014 L1036,1116 L867,1116 L867,1058.7 L188.7,366.8 L20,366.8 Z" fill="#abd7e2"/>
<rect x="20" y="215" width="169" height="9.5" fill="url(#og)"/>
<path d="M22.0,224.5 L28.5,224.5 L32.0,215 L25.5,215 Z" fill="#3d5a7c"/>
<path d="M43.1,224.5 L49.6,224.5 L53.1,215 L46.6,215 Z" fill="#3d5a7c"/>
<path d="M64.2,224.5 L70.7,224.5 L74.2,215 L67.7,215 Z" fill="#3d5a7c"/>
<path d="M85.3,224.5 L91.8,224.5 L95.3,215 L88.8,215 Z" fill="#3d5a7c"/>
<path d="M106.4,224.5 L112.9,224.5 L116.4,215 L109.9,215 Z" fill="#3d5a7c"/>
<path d="M127.5,224.5 L134.0,224.5 L137.5,215 L131.0,215 Z" fill="#3d5a7c"/>
<path d="M148.6,224.5 L155.1,224.5 L158.6,215 L152.1,215 Z" fill="#3d5a7c"/>
<path d="M169.7,224.5 L176.2,224.5 L179.7,215 L173.2,215 Z" fill="#3d5a7c"/>
<rect x="42.2" y="224.5" width="1.6" height="8" fill="#8ea6ad"/>
<rect x="85.2" y="224.5" width="1.6" height="8" fill="#8ea6ad"/>
<rect x="129.2" y="224.5" width="1.6" height="8" fill="#8ea6ad"/>
<rect x="172.2" y="224.5" width="1.6" height="8" fill="#8ea6ad"/>
<line x1="105" y1="150" x2="105" y2="201" stroke="#231815" stroke-width="1.6"/><circle cx="105.4" cy="201.8" r="3.8" fill="#231815"/>
<polyline points="40.0,314.8 41.9,314.0 43.7,313.3 45.6,312.6 47.5,312.1 49.3,311.8 51.2,311.6 53.1,311.7 54.9,311.9 56.8,312.3 58.7,312.9 60.5,313.6 62.4,314.4 64.3,315.2 66.1,316.0 68.0,316.7 69.9,317.3 71.7,317.7 73.6,317.9 75.5,318.0 77.3,317.8 79.2,317.5 81.1,317.0 82.9,316.3 84.8,315.6 86.7,314.8 88.5,314.0 90.4,313.2 92.3,312.6 94.1,312.1 96.0,311.7 97.9,311.6 99.7,311.7 101.6,311.9 103.5,312.4 105.3,313.0 107.2,313.7 109.1,314.4 110.9,315.2 112.8,316.0 114.7,316.7 116.5,317.3 118.4,317.7 120.3,318.0 122.1,318.0 124.0,317.8 125.9,317.5 127.7,317.0 129.6,316.3 131.5,315.5 133.3,314.7 135.2,313.9 137.1,313.2 138.9,312.6 140.8,312.1 142.7,311.7 144.5,311.6 146.4,311.7 148.3,311.9 150.1,312.4 152.0,313.0" fill="none" stroke="#fff" stroke-width="2.4"/>
<path d="M149,309.8 L158,314.8 L149,319.8 Z" fill="#fff"/>
<polyline points="40.0,328.4 41.9,327.6 43.7,326.9 45.6,326.2 47.5,325.7 49.3,325.4 51.2,325.2 53.1,325.3 54.9,325.5 56.8,325.9 58.7,326.5 60.5,327.2 62.4,328.0 64.3,328.8 66.1,329.6 68.0,330.3 69.9,330.9 71.7,331.3 73.6,331.5 75.5,331.6 77.3,331.4 79.2,331.1 81.1,330.6 82.9,329.9 84.8,329.2 86.7,328.4 88.5,327.6 90.4,326.8 92.3,326.2 94.1,325.7 96.0,325.3 97.9,325.2 99.7,325.3 101.6,325.5 103.5,326.0 105.3,326.6 107.2,327.3 109.1,328.0 110.9,328.8 112.8,329.6 114.7,330.3 116.5,330.9 118.4,331.3 120.3,331.6 122.1,331.6 124.0,331.4 125.9,331.1 127.7,330.6 129.6,329.9 131.5,329.1 133.3,328.3 135.2,327.5 137.1,326.8 138.9,326.2 140.8,325.7 142.7,325.3 144.5,325.2 146.4,325.3 148.3,325.5 150.1,326.0 152.0,326.6" fill="none" stroke="#fff" stroke-width="2.4"/>
<path d="M149,323.4 L158,328.4 L149,333.4 Z" fill="#fff"/>
<polyline points="40.0,341.9 41.9,341.1 43.7,340.4 45.6,339.7 47.5,339.2 49.3,338.9 51.2,338.7 53.1,338.8 54.9,339.0 56.8,339.4 58.7,340.0 60.5,340.7 62.4,341.5 64.3,342.3 66.1,343.1 68.0,343.8 69.9,344.4 71.7,344.8 73.6,345.0 75.5,345.1 77.3,344.9 79.2,344.6 81.1,344.1 82.9,343.4 84.8,342.7 86.7,341.9 88.5,341.1 90.4,340.3 92.3,339.7 94.1,339.2 96.0,338.8 97.9,338.7 99.7,338.8 101.6,339.0 103.5,339.5 105.3,340.1 107.2,340.8 109.1,341.5 110.9,342.3 112.8,343.1 114.7,343.8 116.5,344.4 118.4,344.8 120.3,345.1 122.1,345.1 124.0,344.9 125.9,344.6 127.7,344.1 129.6,343.4 131.5,342.6 133.3,341.8 135.2,341.0 137.1,340.3 138.9,339.7 140.8,339.2 142.7,338.8 144.5,338.7 146.4,338.8 148.3,339.0 150.1,339.5 152.0,340.1" fill="none" stroke="#fff" stroke-width="2.4"/>
<path d="M149,336.9 L158,341.9 L149,346.9 Z" fill="#fff"/>
<polyline points="889.0,1043.0 890.9,1042.2 892.7,1041.5 894.6,1040.8 896.5,1040.3 898.3,1040.0 900.2,1039.8 902.1,1039.9 903.9,1040.1 905.8,1040.5 907.7,1041.1 909.5,1041.8 911.4,1042.6 913.3,1043.4 915.1,1044.2 917.0,1044.9 918.9,1045.5 920.7,1045.9 922.6,1046.1 924.5,1046.2 926.3,1046.0 928.2,1045.7 930.1,1045.2 931.9,1044.5 933.8,1043.8 935.7,1043.0 937.5,1042.2 939.4,1041.4 941.3,1040.8 943.1,1040.3 945.0,1039.9 946.9,1039.8 948.7,1039.9 950.6,1040.1 952.5,1040.6 954.3,1041.2 956.2,1041.9 958.1,1042.6 959.9,1043.4 961.8,1044.2 963.7,1044.9 965.5,1045.5 967.4,1045.9 969.3,1046.2 971.1,1046.2 973.0,1046.0 974.9,1045.7 976.7,1045.2 978.6,1044.5 980.5,1043.7 982.3,1042.9 984.2,1042.1 986.1,1041.4 987.9,1040.8 989.8,1040.3 991.7,1039.9 993.5,1039.8 995.4,1039.9 997.3,1040.1 999.1,1040.6 1001.0,1041.2" fill="none" stroke="#fff" stroke-width="2.4"/>
<path d="M998,1038 L1007,1043 L998,1048 Z" fill="#fff"/>
<polyline points="889.0,1057.0 890.9,1056.2 892.7,1055.5 894.6,1054.8 896.5,1054.3 898.3,1054.0 900.2,1053.8 902.1,1053.9 903.9,1054.1 905.8,1054.5 907.7,1055.1 909.5,1055.8 911.4,1056.6 913.3,1057.4 915.1,1058.2 917.0,1058.9 918.9,1059.5 920.7,1059.9 922.6,1060.1 924.5,1060.2 926.3,1060.0 928.2,1059.7 930.1,1059.2 931.9,1058.5 933.8,1057.8 935.7,1057.0 937.5,1056.2 939.4,1055.4 941.3,1054.8 943.1,1054.3 945.0,1053.9 946.9,1053.8 948.7,1053.9 950.6,1054.1 952.5,1054.6 954.3,1055.2 956.2,1055.9 958.1,1056.6 959.9,1057.4 961.8,1058.2 963.7,1058.9 965.5,1059.5 967.4,1059.9 969.3,1060.2 971.1,1060.2 973.0,1060.0 974.9,1059.7 976.7,1059.2 978.6,1058.5 980.5,1057.7 982.3,1056.9 984.2,1056.1 986.1,1055.4 987.9,1054.8 989.8,1054.3 991.7,1053.9 993.5,1053.8 995.4,1053.9 997.3,1054.1 999.1,1054.6 1001.0,1055.2" fill="none" stroke="#fff" stroke-width="2.4"/>
<path d="M998,1052 L1007,1057 L998,1062 Z" fill="#fff"/>
<polyline points="889.0,1069.0 890.9,1068.2 892.7,1067.5 894.6,1066.8 896.5,1066.3 898.3,1066.0 900.2,1065.8 902.1,1065.9 903.9,1066.1 905.8,1066.5 907.7,1067.1 909.5,1067.8 911.4,1068.6 913.3,1069.4 915.1,1070.2 917.0,1070.9 918.9,1071.5 920.7,1071.9 922.6,1072.1 924.5,1072.2 926.3,1072.0 928.2,1071.7 930.1,1071.2 931.9,1070.5 933.8,1069.8 935.7,1069.0 937.5,1068.2 939.4,1067.4 941.3,1066.8 943.1,1066.3 945.0,1065.9 946.9,1065.8 948.7,1065.9 950.6,1066.1 952.5,1066.6 954.3,1067.2 956.2,1067.9 958.1,1068.6 959.9,1069.4 961.8,1070.2 963.7,1070.9 965.5,1071.5 967.4,1071.9 969.3,1072.2 971.1,1072.2 973.0,1072.0 974.9,1071.7 976.7,1071.2 978.6,1070.5 980.5,1069.7 982.3,1068.9 984.2,1068.1 986.1,1067.4 987.9,1066.8 989.8,1066.3 991.7,1065.9 993.5,1065.8 995.4,1065.9 997.3,1066.1 999.1,1066.6 1001.0,1067.2" fill="none" stroke="#fff" stroke-width="2.4"/>
<path d="M998,1064 L1007,1069 L998,1074 Z" fill="#fff"/>
<g transform="translate(312.2,394)"><rect x="0" y="0" width="74" height="98" fill="#c6c6c8"/><rect x="2.2" y="2.2" width="69.6" height="54" fill="#d8d8da"/><rect x="3.5" y="3.7" width="67" height="51.5" fill="none" stroke="#8a8a8c" stroke-width="0.9"/><rect x="5.3" y="7.3" width="62.4" height="46.9" fill="#fff" stroke="#8a8a8c" stroke-width="0.8"/><line x1="66.2" y1="0" x2="66.2" y2="7.3" stroke="#8a8a8c" stroke-width="0.8"/><rect x="21.8" y="17.8" width="6.8" height="1.6" fill="#58595b"/><rect x="20" y="19.3" width="11.2" height="2.6" fill="#bdbdbf"/><rect x="15.8" y="21.9" width="19.2" height="4.1" fill="#747577"/><rect x="14.3" y="26" width="22.6" height="2.3" fill="#c8c8ca"/><rect x="9.8" y="28.3" width="30.8" height="3.7" fill="#e4e4e6" stroke="#707173" stroke-width="0.6"/><rect x="11.7" y="32" width="27" height="16.6" fill="#707173"/><rect x="13.2" y="36.2" width="1" height="9" fill="#909193"/><rect x="16.9" y="36.2" width="1" height="9" fill="#909193"/><rect x="20.6" y="36.2" width="1" height="9" fill="#909193"/><rect x="24.3" y="36.2" width="1" height="9" fill="#909193"/><rect x="28.0" y="36.2" width="1" height="9" fill="#909193"/><rect x="31.7" y="36.2" width="1" height="9" fill="#909193"/><rect x="35.4" y="36.2" width="1" height="9" fill="#909193"/><rect x="11.7" y="34.3" width="27" height="1.9" fill="#86b2bb"/><rect x="11.7" y="45.2" width="27" height="1.9" fill="#86b2bb"/><rect x="17.7" y="48.6" width="15.4" height="1.5" fill="#58595b"/><rect x="42.1" y="20.8" width="22.6" height="13.5" fill="#b0b0b2" stroke="#8a8a8c" stroke-width="0.5"/><rect x="45.0" y="21.5" width="1.6" height="12.3" fill="#8f8f91"/><rect x="48.8" y="21.5" width="1.6" height="12.3" fill="#8f8f91"/><rect x="52.6" y="21.5" width="1.6" height="12.3" fill="#8f8f91"/><rect x="56.4" y="21.5" width="1.6" height="12.3" fill="#8f8f91"/><rect x="60.2" y="21.5" width="1.6" height="12.3" fill="#8f8f91"/><rect x="44.8" y="34.3" width="17.6" height="19.9" fill="#a6a6a8"/><rect x="46" y="37.5" width="15" height="14" fill="#bcbcbe"/><line x1="47" y1="7.3" x2="47" y2="20" stroke="#4a4a4c" stroke-width="0.9"/><rect x="46" y="17" width="2" height="3" fill="#2a2a2c"/><line x1="53" y1="7.3" x2="53" y2="20" stroke="#4a4a4c" stroke-width="0.9"/><rect x="52" y="17" width="2" height="3" fill="#2a2a2c"/><line x1="58.7" y1="7.3" x2="58.7" y2="20" stroke="#4a4a4c" stroke-width="0.9"/><rect x="57.7" y="17" width="2" height="3" fill="#2a2a2c"/><line x1="47" y1="7.3" x2="66.2" y2="7.3" stroke="#555" stroke-width="0.8"/><polygon points="-30.0,13.1 0.0,43.7 0.0,70.0 15.6,82.8 16.7,82.8 16.7,62.2 18.2,62.2 18.2,54.2 32.1,54.2 32.1,62.2 33.6,62.2 33.6,82.8 35.1,82.0 44.1,74.2 53.2,79.0 53.2,98.3 90.0,135.5 90.0,190.6 22.7,122.0 22.7,100.8 1.3,100.8 -30.0,68.2" fill="#abd7e2"/><polygon points="1.3,100.8 22.7,100.8 22.7,125.5 19,125 -1.5,103.5" fill="#4b4b4d"/><rect x="23.9" y="50" width="2.8" height="26" fill="#77787a"/><rect x="18.6" y="75.3" width="13.5" height="5.3" fill="#e6e6e8" stroke="#7a7a7c" stroke-width="0.6"/><rect x="20.8" y="83.2" width="9.4" height="2.6" fill="#d0d0d2" stroke="#7a7a7c" stroke-width="0.5"/><path d="M0,70 L15.6,82.8 L16.7,82.8 L16.7,62.2 M33.6,62.2 L33.6,82.8 L35.1,82 L44.1,74.2 L53.2,79 L53.2,102.3 L43.4,108.3 L35.1,101.6 L32.1,101.6 L29.1,103.5 L29.1,108.3" fill="none" stroke="#2e2e30" stroke-width="1.9" stroke-linejoin="miter"/><rect x="10.7" y="86.6" width="29.3" height="10.1" fill="#6b6c6e"/><path d="M11.5,88.5 L12.8,95 L14.2,88.5 L15.6,95 L16.9,88.5 L18.2,95 L19.6,88.5 L21.0,95 L22.3,88.5 L23.6,95 L25.0,88.5 L26.4,95 L27.7,88.5 L29.1,95 L30.4,88.5 L31.8,95 L33.1,88.5 L34.5,95 L35.8,88.5 L37.2,95 L38.5,88.5" fill="none" stroke="#dcdcde" stroke-width="0.7"/><path d="M22.4,96.7 L28.4,96.7 L25.4,100.8 Z" fill="#6b6c6e"/></g>
<g transform="translate(416.5,499.6)"><rect x="0" y="0" width="74" height="98" fill="#c6c6c8"/><rect x="2.2" y="2.2" width="69.6" height="54" fill="#d8d8da"/><rect x="3.5" y="3.7" width="67" height="51.5" fill="none" stroke="#8a8a8c" stroke-width="0.9"/><rect x="5.3" y="7.3" width="62.4" height="46.9" fill="#fff" stroke="#8a8a8c" stroke-width="0.8"/><line x1="66.2" y1="0" x2="66.2" y2="7.3" stroke="#8a8a8c" stroke-width="0.8"/><rect x="21.8" y="17.8" width="6.8" height="1.6" fill="#58595b"/><rect x="20" y="19.3" width="11.2" height="2.6" fill="#bdbdbf"/><rect x="15.8" y="21.9" width="19.2" height="4.1" fill="#747577"/><rect x="14.3" y="26" width="22.6" height="2.3" fill="#c8c8ca"/><rect x="9.8" y="28.3" width="30.8" height="3.7" fill="#e4e4e6" stroke="#707173" stroke-width="0.6"/><rect x="11.7" y="32" width="27" height="16.6" fill="#707173"/><rect x="13.2" y="36.2" width="1" height="9" fill="#909193"/><rect x="16.9" y="36.2" width="1" height="9" fill="#909193"/><rect x="20.6" y="36.2" width="1" height="9" fill="#909193"/><rect x="24.3" y="36.2" width="1" height="9" fill="#909193"/><rect x="28.0" y="36.2" width="1" height="9" fill="#909193"/><rect x="31.7" y="36.2" width="1" height="9" fill="#909193"/><rect x="35.4" y="36.2" width="1" height="9" fill="#909193"/><rect x="11.7" y="34.3" width="27" height="1.9" fill="#86b2bb"/><rect x="11.7" y="45.2" width="27" height="1.9" fill="#86b2bb"/><rect x="17.7" y="48.6" width="15.4" height="1.5" fill="#58595b"/><rect x="42.1" y="20.8" width="22.6" height="13.5" fill="#b0b0b2" stroke="#8a8a8c" stroke-width="0.5"/><rect x="45.0" y="21.5" width="1.6" height="12.3" fill="#8f8f91"/><rect x="48.8" y="21.5" width="1.6" height="12.3" fill="#8f8f91"/><rect x="52.6" y="21.5" width="1.6" height="12.3" fill="#8f8f91"/><rect x="56.4" y="21.5" width="1.6" height="12.3" fill="#8f8f91"/><rect x="60.2" y="21.5" width="1.6" height="12.3" fill="#8f8f91"/><rect x="44.8" y="34.3" width="17.6" height="19.9" fill="#a6a6a8"/><rect x="46" y="37.5" width="15" height="14" fill="#bcbcbe"/><line x1="47" y1="7.3" x2="47" y2="20" stroke="#4a4a4c" stroke-width="0.9"/><rect x="46" y="17" width="2" height="3" fill="#2a2a2c"/><line x1="53" y1="7.3" x2="53" y2="20" stroke="#4a4a4c" stroke-width="0.9"/><rect x="52" y="17" width="2" height="3" fill="#2a2a2c"/><line x1="58.7" y1="7.3" x2="58.7" y2="20" stroke="#4a4a4c" stroke-width="0.9"/><rect x="57.7" y="17" width="2" height="3" fill="#2a2a2c"/><line x1="47" y1="7.3" x2="66.2" y2="7.3" stroke="#555" stroke-width="0.8"/><polygon points="-30.0,13.1 0.0,43.7 0.0,70.0 15.6,82.8 16.7,82.8 16.7,62.2 18.2,62.2 18.2,54.2 32.1,54.2 32.1,62.2 33.6,62.2 33.6,82.8 35.1,82.0 44.1,74.2 53.2,79.0 53.2,98.3 90.0,135.5 90.0,190.6 22.7,122.0 22.7,100.8 1.3,100.8 -30.0,68.2" fill="#abd7e2"/><polygon points="1.3,100.8 22.7,100.8 22.7,125.5 19,125 -1.5,103.5" fill="#4b4b4d"/><rect x="23.9" y="50" width="2.8" height="26" fill="#77787a"/><rect x="18.6" y="75.3" width="13.5" height="5.3" fill="#e6e6e8" stroke="#7a7a7c" stroke-width="0.6"/><rect x="20.8" y="83.2" width="9.4" height="2.6" fill="#d0d0d2" stroke="#7a7a7c" stroke-width="0.5"/><path d="M0,70 L15.6,82.8 L16.7,82.8 L16.7,62.2 M33.6,62.2 L33.6,82.8 L35.1,82 L44.1,74.2 L53.2,79 L53.2,102.3 L43.4,108.3 L35.1,101.6 L32.1,101.6 L29.1,103.5 L29.1,108.3" fill="none" stroke="#2e2e30" stroke-width="1.9" stroke-linejoin="miter"/><rect x="10.7" y="86.6" width="29.3" height="10.1" fill="#6b6c6e"/><path d="M11.5,88.5 L12.8,95 L14.2,88.5 L15.6,95 L16.9,88.5 L18.2,95 L19.6,88.5 L21.0,95 L22.3,88.5 L23.6,95 L25.0,88.5 L26.4,95 L27.7,88.5 L29.1,95 L30.4,88.5 L31.8,95 L33.1,88.5 L34.5,95 L35.8,88.5 L37.2,95 L38.5,88.5" fill="none" stroke="#dcdcde" stroke-width="0.7"/><path d="M22.4,96.7 L28.4,96.7 L25.4,100.8 Z" fill="#6b6c6e"/></g>
<g transform="translate(520.4,606)"><rect x="0" y="0" width="74" height="98" fill="#c6c6c8"/><rect x="2.2" y="2.2" width="69.6" height="54" fill="#d8d8da"/><rect x="3.5" y="3.7" width="67" height="51.5" fill="none" stroke="#8a8a8c" stroke-width="0.9"/><rect x="5.3" y="7.3" width="62.4" height="46.9" fill="#fff" stroke="#8a8a8c" stroke-width="0.8"/><line x1="66.2" y1="0" x2="66.2" y2="7.3" stroke="#8a8a8c" stroke-width="0.8"/><rect x="21.8" y="17.8" width="6.8" height="1.6" fill="#58595b"/><rect x="20" y="19.3" width="11.2" height="2.6" fill="#bdbdbf"/><rect x="15.8" y="21.9" width="19.2" height="4.1" fill="#747577"/><rect x="14.3" y="26" width="22.6" height="2.3" fill="#c8c8ca"/><rect x="9.8" y="28.3" width="30.8" height="3.7" fill="#e4e4e6" stroke="#707173" stroke-width="0.6"/><rect x="11.7" y="32" width="27" height="16.6" fill="#707173"/><rect x="13.2" y="36.2" width="1" height="9" fill="#909193"/><rect x="16.9" y="36.2" width="1" height="9" fill="#909193"/><rect x="20.6" y="36.2" width="1" height="9" fill="#909193"/><rect x="24.3" y="36.2" width="1" height="9" fill="#909193"/><rect x="28.0" y="36.2" width="1" height="9" fill="#909193"/><rect x="31.7" y="36.2" width="1" height="9" fill="#909193"/><rect x="35.4" y="36.2" width="1" height="9" fill="#909193"/><rect x="11.7" y="34.3" width="27" height="1.9" fill="#86b2bb"/><rect x="11.7" y="45.2" width="27" height="1.9" fill="#86b2bb"/><rect x="17.7" y="48.6" width="15.4" height="1.5" fill="#58595b"/><rect x="42.1" y="20.8" width="22.6" height="13.5" fill="#b0b0b2" stroke="#8a8a8c" stroke-width="0.5"/><rect x="45.0" y="21.5" width="1.6" height="12.3" fill="#8f8f91"/><rect x="48.8" y="21.5" width="1.6" height="12.3" fill="#8f8f91"/><rect x="52.6" y="21.5" width="1.6" height="12.3" fill="#8f8f91"/><rect x="56.4" y="21.5" width="1.6" height="12.3" fill="#8f8f91"/><rect x="60.2" y="21.5" width="1.6" height="12.3" fill="#8f8f91"/><rect x="44.8" y="34.3" width="17.6" height="19.9" fill="#a6a6a8"/><rect x="46" y="37.5" width="15" height="14" fill="#bcbcbe"/><line x1="47" y1="7.3" x2="47" y2="20" stroke="#4a4a4c" stroke-width="0.9"/><rect x="46" y="17" width="2" height="3" fill="#2a2a2c"/><line x1="53" y1="7.3" x2="53" y2="20" stroke="#4a4a4c" stroke-width="0.9"/><rect x="52" y="17" width="2" height="3" fill="#2a2a2c"/><line x1="58.7" y1="7.3" x2="58.7" y2="20" stroke="#4a4a4c" stroke-width="0.9"/><rect x="57.7" y="17" width="2" height="3" fill="#2a2a2c"/><line x1="47" y1="7.3" x2="66.2" y2="7.3" stroke="#555" stroke-width="0.8"/><polygon points="-30.0,13.1 0.0,43.7 0.0,70.0 15.6,82.8 16.7,82.8 16.7,62.2 18.2,62.2 18.2,54.2 32.1,54.2 32.1,62.2 33.6,62.2 33.6,82.8 35.1,82.0 44.1,74.2 53.2,79.0 53.2,98.3 90.0,135.5 90.0,190.6 22.7,122.0 22.7,100.8 1.3,100.8 -30.0,68.2" fill="#abd7e2"/><polygon points="1.3,100.8 22.7,100.8 22.7,125.5 19,125 -1.5,103.5" fill="#4b4b4d"/><rect x="23.9" y="50" width="2.8" height="26" fill="#77787a"/><rect x="18.6" y="75.3" width="13.5" height="5.3" fill="#e6e6e8" stroke="#7a7a7c" stroke-width="0.6"/><rect x="20.8" y="83.2" width="9.4" height="2.6" fill="#d0d0d2" stroke="#7a7a7c" stroke-width="0.5"/><path d="M0,70 L15.6,82.8 L16.7,82.8 L16.7,62.2 M33.6,62.2 L33.6,82.8 L35.1,82 L44.1,74.2 L53.2,79 L53.2,102.3 L43.4,108.3 L35.1,101.6 L32.1,101.6 L29.1,103.5 L29.1,108.3" fill="none" stroke="#2e2e30" stroke-width="1.9" stroke-linejoin="miter"/><rect x="10.7" y="86.6" width="29.3" height="10.1" fill="#6b6c6e"/><path d="M11.5,88.5 L12.8,95 L14.2,88.5 L15.6,95 L16.9,88.5 L18.2,95 L19.6,88.5 L21.0,95 L22.3,88.5 L23.6,95 L25.0,88.5 L26.4,95 L27.7,88.5 L29.1,95 L30.4,88.5 L31.8,95 L33.1,88.5 L34.5,95 L35.8,88.5 L37.2,95 L38.5,88.5" fill="none" stroke="#dcdcde" stroke-width="0.7"/><path d="M22.4,96.7 L28.4,96.7 L25.4,100.8 Z" fill="#6b6c6e"/></g>
<g transform="translate(624.5,712)"><rect x="0" y="0" width="74" height="98" fill="#c6c6c8"/><rect x="2.2" y="2.2" width="69.6" height="54" fill="#d8d8da"/><rect x="3.5" y="3.7" width="67" height="51.5" fill="none" stroke="#8a8a8c" stroke-width="0.9"/><rect x="5.3" y="7.3" width="62.4" height="46.9" fill="#fff" stroke="#8a8a8c" stroke-width="0.8"/><line x1="66.2" y1="0" x2="66.2" y2="7.3" stroke="#8a8a8c" stroke-width="0.8"/><rect x="21.8" y="17.8" width="6.8" height="1.6" fill="#58595b"/><rect x="20" y="19.3" width="11.2" height="2.6" fill="#bdbdbf"/><rect x="15.8" y="21.9" width="19.2" height="4.1" fill="#747577"/><rect x="14.3" y="26" width="22.6" height="2.3" fill="#c8c8ca"/><rect x="9.8" y="28.3" width="30.8" height="3.7" fill="#e4e4e6" stroke="#707173" stroke-width="0.6"/><rect x="11.7" y="32" width="27" height="16.6" fill="#707173"/><rect x="13.2" y="36.2" width="1" height="9" fill="#909193"/><rect x="16.9" y="36.2" width="1" height="9" fill="#909193"/><rect x="20.6" y="36.2" width="1" height="9" fill="#909193"/><rect x="24.3" y="36.2" width="1" height="9" fill="#909193"/><rect x="28.0" y="36.2" width="1" height="9" fill="#909193"/><rect x="31.7" y="36.2" width="1" height="9" fill="#909193"/><rect x="35.4" y="36.2" width="1" height="9" fill="#909193"/><rect x="11.7" y="34.3" width="27" height="1.9" fill="#86b2bb"/><rect x="11.7" y="45.2" width="27" height="1.9" fill="#86b2bb"/><rect x="17.7" y="48.6" width="15.4" height="1.5" fill="#58595b"/><rect x="42.1" y="20.8" width="22.6" height="13.5" fill="#b0b0b2" stroke="#8a8a8c" stroke-width="0.5"/><rect x="45.0" y="21.5" width="1.6" height="12.3" fill="#8f8f91"/><rect x="48.8" y="21.5" width="1.6" height="12.3" fill="#8f8f91"/><rect x="52.6" y="21.5" width="1.6" height="12.3" fill="#8f8f91"/><rect x="56.4" y="21.5" width="1.6" height="12.3" fill="#8f8f91"/><rect x="60.2" y="21.5" width="1.6" height="12.3" fill="#8f8f91"/><rect x="44.8" y="34.3" width="17.6" height="19.9" fill="#a6a6a8"/><rect x="46" y="37.5" width="15" height="14" fill="#bcbcbe"/><line x1="47" y1="7.3" x2="47" y2="20" stroke="#4a4a4c" stroke-width="0.9"/><rect x="46" y="17" width="2" height="3" fill="#2a2a2c"/><line x1="53" y1="7.3" x2="53" y2="20" stroke="#4a4a4c" stroke-width="0.9"/><rect x="52" y="17" width="2" height="3" fill="#2a2a2c"/><line x1="58.7" y1="7.3" x2="58.7" y2="20" stroke="#4a4a4c" stroke-width="0.9"/><rect x="57.7" y="17" width="2" height="3" fill="#2a2a2c"/><line x1="47" y1="7.3" x2="66.2" y2="7.3" stroke="#555" stroke-width="0.8"/><polygon points="-30.0,13.1 0.0,43.7 0.0,70.0 15.6,82.8 16.7,82.8 16.7,62.2 18.2,62.2 18.2,54.2 32.1,54.2 32.1,62.2 33.6,62.2 33.6,82.8 35.1,82.0 44.1,74.2 53.2,79.0 53.2,98.3 90.0,135.5 90.0,190.6 22.7,122.0 22.7,100.8 1.3,100.8 -30.0,68.2" fill="#abd7e2"/><polygon points="1.3,100.8 22.7,100.8 22.7,125.5 19,125 -1.5,103.5" fill="#4b4b4d"/><rect x="23.9" y="50" width="2.8" height="26" fill="#77787a"/><rect x="18.6" y="75.3" width="13.5" height="5.3" fill="#e6e6e8" stroke="#7a7a7c" stroke-width="0.6"/><rect x="20.8" y="83.2" width="9.4" height="2.6" fill="#d0d0d2" stroke="#7a7a7c" stroke-width="0.5"/><path d="M0,70 L15.6,82.8 L16.7,82.8 L16.7,62.2 M33.6,62.2 L33.6,82.8 L35.1,82 L44.1,74.2 L53.2,79 L53.2,102.3 L43.4,108.3 L35.1,101.6 L32.1,101.6 L29.1,103.5 L29.1,108.3" fill="none" stroke="#2e2e30" stroke-width="1.9" stroke-linejoin="miter"/><rect x="10.7" y="86.6" width="29.3" height="10.1" fill="#6b6c6e"/><path d="M11.5,88.5 L12.8,95 L14.2,88.5 L15.6,95 L16.9,88.5 L18.2,95 L19.6,88.5 L21.0,95 L22.3,88.5 L23.6,95 L25.0,88.5 L26.4,95 L27.7,88.5 L29.1,95 L30.4,88.5 L31.8,95 L33.1,88.5 L34.5,95 L35.8,88.5 L37.2,95 L38.5,88.5" fill="none" stroke="#dcdcde" stroke-width="0.7"/><path d="M22.4,96.7 L28.4,96.7 L25.4,100.8 Z" fill="#6b6c6e"/></g>
<g transform="translate(728.5,818.5)"><rect x="0" y="0" width="74" height="98" fill="#c6c6c8"/><rect x="2.2" y="2.2" width="69.6" height="54" fill="#d8d8da"/><rect x="3.5" y="3.7" width="67" height="51.5" fill="none" stroke="#8a8a8c" stroke-width="0.9"/><rect x="5.3" y="7.3" width="62.4" height="46.9" fill="#fff" stroke="#8a8a8c" stroke-width="0.8"/><line x1="66.2" y1="0" x2="66.2" y2="7.3" stroke="#8a8a8c" stroke-width="0.8"/><rect x="21.8" y="17.8" width="6.8" height="1.6" fill="#58595b"/><rect x="20" y="19.3" width="11.2" height="2.6" fill="#bdbdbf"/><rect x="15.8" y="21.9" width="19.2" height="4.1" fill="#747577"/><rect x="14.3" y="26" width="22.6" height="2.3" fill="#c8c8ca"/><rect x="9.8" y="28.3" width="30.8" height="3.7" fill="#e4e4e6" stroke="#707173" stroke-width="0.6"/><rect x="11.7" y="32" width="27" height="16.6" fill="#707173"/><rect x="13.2" y="36.2" width="1" height="9" fill="#909193"/><rect x="16.9" y="36.2" width="1" height="9" fill="#909193"/><rect x="20.6" y="36.2" width="1" height="9" fill="#909193"/><rect x="24.3" y="36.2" width="1" height="9" fill="#909193"/><rect x="28.0" y="36.2" width="1" height="9" fill="#909193"/><rect x="31.7" y="36.2" width="1" height="9" fill="#909193"/><rect x="35.4" y="36.2" width="1" height="9" fill="#909193"/><rect x="11.7" y="34.3" width="27" height="1.9" fill="#86b2bb"/><rect x="11.7" y="45.2" width="27" height="1.9" fill="#86b2bb"/><rect x="17.7" y="48.6" width="15.4" height="1.5" fill="#58595b"/><rect x="42.1" y="20.8" width="22.6" height="13.5" fill="#b0b0b2" stroke="#8a8a8c" stroke-width="0.5"/><rect x="45.0" y="21.5" width="1.6" height="12.3" fill="#8f8f91"/><rect x="48.8" y="21.5" width="1.6" height="12.3" fill="#8f8f91"/><rect x="52.6" y="21.5" width="1.6" height="12.3" fill="#8f8f91"/><rect x="56.4" y="21.5" width="1.6" height="12.3" fill="#8f8f91"/><rect x="60.2" y="21.5" width="1.6" height="12.3" fill="#8f8f91"/><rect x="44.8" y="34.3" width="17.6" height="19.9" fill="#a6a6a8"/><rect x="46" y="37.5" width="15" height="14" fill="#bcbcbe"/><line x1="47" y1="7.3" x2="47" y2="20" stroke="#4a4a4c" stroke-width="0.9"/><rect x="46" y="17" width="2" height="3" fill="#2a2a2c"/><line x1="53" y1="7.3" x2="53" y2="20" stroke="#4a4a4c" stroke-width="0.9"/><rect x="52" y="17" width="2" height="3" fill="#2a2a2c"/><line x1="58.7" y1="7.3" x2="58.7" y2="20" stroke="#4a4a4c" stroke-width="0.9"/><rect x="57.7" y="17" width="2" height="3" fill="#2a2a2c"/><line x1="47" y1="7.3" x2="66.2" y2="7.3" stroke="#555" stroke-width="0.8"/><polygon points="-30.0,13.1 0.0,43.7 0.0,70.0 15.6,82.8 16.7,82.8 16.7,62.2 18.2,62.2 18.2,54.2 32.1,54.2 32.1,62.2 33.6,62.2 33.6,82.8 35.1,82.0 44.1,74.2 53.2,79.0 53.2,98.3 90.0,135.5 90.0,190.6 22.7,122.0 22.7,100.8 1.3,100.8 -30.0,68.2" fill="#abd7e2"/><polygon points="1.3,100.8 22.7,100.8 22.7,125.5 19,125 -1.5,103.5" fill="#4b4b4d"/><rect x="23.9" y="50" width="2.8" height="26" fill="#77787a"/><rect x="18.6" y="75.3" width="13.5" height="5.3" fill="#e6e6e8" stroke="#7a7a7c" stroke-width="0.6"/><rect x="20.8" y="83.2" width="9.4" height="2.6" fill="#d0d0d2" stroke="#7a7a7c" stroke-width="0.5"/><path d="M0,70 L15.6,82.8 L16.7,82.8 L16.7,62.2 M33.6,62.2 L33.6,82.8 L35.1,82 L44.1,74.2 L53.2,79 L53.2,102.3 L43.4,108.3 L35.1,101.6 L32.1,101.6 L29.1,103.5 L29.1,108.3" fill="none" stroke="#2e2e30" stroke-width="1.9" stroke-linejoin="miter"/><rect x="10.7" y="86.6" width="29.3" height="10.1" fill="#6b6c6e"/><path d="M11.5,88.5 L12.8,95 L14.2,88.5 L15.6,95 L16.9,88.5 L18.2,95 L19.6,88.5 L21.0,95 L22.3,88.5 L23.6,95 L25.0,88.5 L26.4,95 L27.7,88.5 L29.1,95 L30.4,88.5 L31.8,95 L33.1,88.5 L34.5,95 L35.8,88.5 L37.2,95 L38.5,88.5" fill="none" stroke="#dcdcde" stroke-width="0.7"/><path d="M22.4,96.7 L28.4,96.7 L25.4,100.8 Z" fill="#6b6c6e"/></g>
<path transform="translate(256,408) rotate(44.1)" d="M0,-4.3 L27.8,-4.3 L27.8,-10.5 L46.8,0 L27.8,10.5 L27.8,4.3 L0,4.3 Z" fill="#fff"/>
<path transform="translate(363,514) rotate(44.1)" d="M0,-4.3 L27.8,-4.3 L27.8,-10.5 L46.8,0 L27.8,10.5 L27.8,4.3 L0,4.3 Z" fill="#fff"/>
<path transform="translate(468,629) rotate(44.1)" d="M0,-4.3 L27.8,-4.3 L27.8,-10.5 L46.8,0 L27.8,10.5 L27.8,4.3 L0,4.3 Z" fill="#fff"/>
<path transform="translate(573.5,733) rotate(44.1)" d="M0,-4.3 L27.8,-4.3 L27.8,-10.5 L46.8,0 L27.8,10.5 L27.8,4.3 L0,4.3 Z" fill="#fff"/>
<path transform="translate(681.5,839) rotate(44.1)" d="M0,-4.3 L27.8,-4.3 L27.8,-10.5 L46.8,0 L27.8,10.5 L27.8,4.3 L0,4.3 Z" fill="#fff"/>
<path transform="translate(787,949) rotate(44.1)" d="M0,-4.3 L27.8,-4.3 L27.8,-10.5 L46.8,0 L27.8,10.5 L27.8,4.3 L0,4.3 Z" fill="#fff"/>
<line x1="65" y1="389" x2="65" y2="664" stroke="#1e1e1e" stroke-width="4.8"/><line x1="65" y1="389" x2="65" y2="664" stroke="#fff" stroke-width="2.3"/>
<line x1="65" y1="712" x2="65" y2="1113" stroke="#1e1e1e" stroke-width="4.8"/><line x1="65" y1="712" x2="65" y2="1113" stroke="#fff" stroke-width="2.3"/>
<rect x="59.5" y="386.5" width="11" height="3.2" fill="#fff" stroke="#1e1e1e" stroke-width="1"/><rect x="59.5" y="1112" width="11" height="3.2" fill="#fff" stroke="#1e1e1e" stroke-width="1"/>
<line x1="188.5" y1="401" x2="188.5" y2="751" stroke="#141414" stroke-width="1.4" stroke-dasharray="3.2,2.3"/>
<line x1="859" y1="788" x2="859" y2="1123" stroke="#141414" stroke-width="1.4" stroke-dasharray="3.2,2.3"/>
<line x1="190" y1="767.7" x2="298" y2="767.7" stroke="#1e1e1e" stroke-width="4.8"/><line x1="190" y1="767.7" x2="298" y2="767.7" stroke="#fff" stroke-width="2.3"/>
<line x1="392" y1="767.7" x2="856" y2="767.7" stroke="#1e1e1e" stroke-width="4.8"/><line x1="392" y1="767.7" x2="856" y2="767.7" stroke="#fff" stroke-width="2.3"/>
<rect x="187" y="762" width="3.2" height="11" fill="#fff" stroke="#1e1e1e" stroke-width="1"/><rect x="856" y="762" width="3.2" height="11" fill="#fff" stroke="#1e1e1e" stroke-width="1"/>
<circle cx="459" cy="1181" r="309.5" fill="#fff"/>
<g clip-path="url(#circ)">
<rect x="150" y="870" width="620" height="620" fill="#f4e7d4"/>
<polygon points="120.0,1150.0 156.0,1204.0 170.0,1205.4 181.8,1217.2 195.4,1213.8 204.9,1221.7 240.1,1226.4 270.2,1235.4 285.2,1223.4 313.8,1217.4 312.5,1210.0 305.0,1193.9 302.0,1182.6 306.2,1172.8 302.8,1163.8 302.0,1154.8 305.0,1151.8 309.5,1151.8 316.3,1148.0 323.0,1143.1 329.0,1148.0 330.6,1154.8 329.4,1172.0 329.4,1187.0 341.0,1202.9 342.0,1204.4 359.2,1209.2 371.0,1206.0 378.9,1209.2 394.7,1209.2 405.2,1201.3 414.4,1201.3 427.5,1208.5 440.0,1205.3 483.4,1192.1 517.5,1195.2 564.0,1173.5 613.5,1122.0 618.6,1118.0 645.6,1117.2 684.5,1129.0 691.3,1132.4 689.6,1134.0 687.9,1142.5 701.4,1162.8 696.3,1167.9 681.0,1161.0 667.6,1159.4 654.0,1167.9 635.5,1188.2 626.0,1204.5 604.2,1235.5 607.3,1266.3 607.3,1338.6 574.5,1335.3 561.3,1335.3 571.2,1348.4 574.5,1381.3 561.3,1397.7 571.2,1430.6 564.6,1443.7 551.4,1437.2 544.9,1404.3 531.7,1381.3 525.2,1361.6 515.3,1358.3 508.7,1364.9 502.2,1391.2 495.6,1394.5 475.9,1378.0 472.6,1348.4 489.0,1335.3 508.7,1315.6 512.0,1292.6 516.9,1291.0 470.0,1286.1 440.0,1286.1 403.9,1285.4 396.0,1271.0 392.0,1252.6 385.4,1236.8 378.9,1246.0 361.8,1243.4 357.8,1228.3 351.3,1226.3 350.0,1235.5 339.4,1238.8 333.5,1234.2 335.5,1226.3 325.0,1223.7 326.3,1232.9 317.1,1252.6 318.4,1259.2 335.5,1275.0 351.3,1276.2 357.8,1286.8 355.2,1296.0 342.0,1292.0 326.3,1311.7 323.7,1321.0 352.6,1336.7 357.3,1359.0 354.3,1368.0 363.3,1386.0 372.4,1407.0 381.4,1434.0 390.4,1470.0 387.4,1476.0 390.0,1500.0 120.0,1500.0" fill="#ead2a9" stroke="#fff" stroke-width="2.6" stroke-linejoin="round"/>
<polygon points="140.0,860.0 790.0,860.0 790.0,1148.0 770.0,1140.0 752.0,1137.5 728.4,1134.0 718.3,1124.0 706.5,1115.5 692.0,1132.4 684.5,1129.0 645.6,1117.2 618.6,1118.0 613.5,1122.0 564.0,1173.5 517.5,1195.2 483.4,1192.1 476.0,1172.0 460.0,1165.0 455.0,1148.0 445.0,1139.0 422.0,1141.0 403.0,1136.0 375.0,1134.0 365.0,1136.0 353.0,1152.0 351.0,1175.0 352.3,1197.6 341.0,1202.9 329.4,1187.0 329.4,1172.0 330.6,1154.8 329.0,1148.0 323.0,1143.1 316.3,1148.0 309.5,1151.8 305.0,1151.8 302.0,1154.8 290.0,1153.3 225.0,1139.3 160.5,1121.2 140.0,1115.0" fill="#e2bf8b" stroke="#fff" stroke-width="2.6" stroke-linejoin="round"/>
<polyline points="457.0,1155.0 461.7,1167.3 477.2,1172.0 483.4,1192.1" fill="none" stroke="#9a7743" stroke-width="1.7" stroke-dasharray="6,3.5"/>
<path d="M457.0,1155.0 C460.4,1154.0 469.7,1152.8 477.2,1148.7 C484.7,1144.6 494.8,1136.9 502.0,1130.2 C509.2,1123.5 513.4,1113.7 520.6,1108.5 C527.8,1103.3 539.5,1103.9 545.4,1099.2 C551.3,1094.5 552.1,1086.0 556.2,1080.6 C560.3,1075.2 562.7,1067.6 570.2,1066.6 C577.7,1065.6 593.9,1073.6 601.1,1074.4 C608.3,1075.2 609.4,1074.7 613.5,1071.3 C617.6,1067.9 620.8,1056.0 626.0,1054.2 C631.2,1052.4 639.9,1056.0 644.5,1060.4 C649.1,1064.8 652.2,1073.6 653.8,1080.6 C655.3,1087.6 649.7,1098.2 653.8,1102.3 C657.9,1106.4 669.8,1103.2 678.6,1105.4 C687.4,1107.6 704.3,1111.0 706.5,1115.5 C708.7,1120.0 694.4,1129.6 692.0,1132.4" fill="none" stroke="#9a7743" stroke-width="1.7" stroke-dasharray="6,3.5"/>
<polygon points="441.2,1410.0 462.3,1407.0 471.3,1413.0 516.3,1479.0 520.0,1500.0 380.0,1500.0 387.1,1476.2 429.2,1455.1 433.7,1447.6 426.2,1435.6 432.2,1428.0 436.7,1420.6 432.2,1414.6" fill="#0a77c6"/>
<polygon points="339,1500 339,1464 345,1444.6 349.6,1467 369,1470 381,1476 381,1500" fill="#0a77c6"/>
<path d="M170.0,1060.0 C174.2,1060.5 188.3,1061.3 195.0,1063.0 C201.7,1064.7 206.5,1067.8 210.0,1070.0 C213.5,1072.2 211.0,1074.9 216.0,1076.0 C221.0,1077.1 223.0,1078.0 240.0,1076.8 C257.0,1075.6 296.0,1071.8 318.0,1068.6 C340.0,1065.4 357.5,1057.8 372.0,1057.5 C386.5,1057.2 390.4,1065.4 405.0,1067.0 C419.6,1068.6 444.4,1067.1 459.5,1067.0 C474.6,1066.9 485.6,1068.5 495.8,1066.6 C506.0,1064.7 512.9,1060.7 520.6,1055.8 C528.3,1050.9 534.3,1041.4 542.0,1037.0 C549.7,1032.6 557.2,1034.3 567.0,1029.4 C576.8,1024.5 593.5,1011.1 601.0,1007.7 C608.5,1004.3 609.7,1005.1 612.0,1009.0 C614.3,1012.9 614.5,1020.7 615.0,1031.0 C615.5,1041.3 616.3,1060.2 615.0,1071.0 C613.7,1081.8 615.8,1086.2 607.3,1096.0 C598.8,1105.8 572.0,1121.2 564.0,1130.0 C556.0,1138.8 555.9,1139.4 559.0,1148.7 C562.1,1158.0 579.1,1174.6 582.5,1186.0 C585.9,1197.4 585.2,1206.7 579.5,1217.0 C573.8,1227.3 558.8,1241.3 548.5,1248.0 C538.2,1254.7 530.6,1256.5 517.5,1257.0 C504.4,1257.5 485.9,1252.0 470.0,1251.0 C454.1,1250.0 432.8,1248.5 422.0,1251.0 C411.2,1253.5 407.7,1260.6 405.4,1266.1 C403.1,1271.6 405.9,1276.1 408.4,1284.1 C410.9,1292.1 416.4,1304.2 420.4,1314.2 C424.4,1324.2 432.5,1334.7 432.5,1344.2 C432.5,1353.7 421.9,1364.3 420.4,1371.3 C418.9,1378.3 420.0,1379.5 423.4,1386.3 C426.8,1393.1 438.1,1407.7 441.0,1412.0" fill="none" stroke="#f3d9ad" stroke-width="7" stroke-linejoin="round" stroke-linecap="round"/>
<path d="M170.0,1060.0 C174.2,1060.5 188.3,1061.3 195.0,1063.0 C201.7,1064.7 206.5,1067.8 210.0,1070.0 C213.5,1072.2 211.0,1074.9 216.0,1076.0 C221.0,1077.1 223.0,1078.0 240.0,1076.8 C257.0,1075.6 296.0,1071.8 318.0,1068.6 C340.0,1065.4 357.5,1057.8 372.0,1057.5 C386.5,1057.2 390.4,1065.4 405.0,1067.0 C419.6,1068.6 444.4,1067.1 459.5,1067.0 C474.6,1066.9 485.6,1068.5 495.8,1066.6 C506.0,1064.7 512.9,1060.7 520.6,1055.8 C528.3,1050.9 534.3,1041.4 542.0,1037.0 C549.7,1032.6 557.2,1034.3 567.0,1029.4 C576.8,1024.5 593.5,1011.1 601.0,1007.7 C608.5,1004.3 609.7,1005.1 612.0,1009.0 C614.3,1012.9 614.5,1020.7 615.0,1031.0 C615.5,1041.3 616.3,1060.2 615.0,1071.0 C613.7,1081.8 615.8,1086.2 607.3,1096.0 C598.8,1105.8 572.0,1121.2 564.0,1130.0 C556.0,1138.8 555.9,1139.4 559.0,1148.7 C562.1,1158.0 579.1,1174.6 582.5,1186.0 C585.9,1197.4 585.2,1206.7 579.5,1217.0 C573.8,1227.3 558.8,1241.3 548.5,1248.0 C538.2,1254.7 530.6,1256.5 517.5,1257.0 C504.4,1257.5 485.9,1252.0 470.0,1251.0 C454.1,1250.0 432.8,1248.5 422.0,1251.0 C411.2,1253.5 407.7,1260.6 405.4,1266.1 C403.1,1271.6 405.9,1276.1 408.4,1284.1 C410.9,1292.1 416.4,1304.2 420.4,1314.2 C424.4,1324.2 432.5,1334.7 432.5,1344.2 C432.5,1353.7 421.9,1364.3 420.4,1371.3 C418.9,1378.3 420.0,1379.5 423.4,1386.3 C426.8,1393.1 438.1,1407.7 441.0,1412.0" fill="none" stroke="#0b78c8" stroke-width="5" stroke-linejoin="round" stroke-linecap="round"/>
</g>
<line x1="472" y1="975" x2="472" y2="1065" stroke="#040e46" stroke-width="3.9"/>
<circle cx="472" cy="1065" r="13.8" fill="#fff"/><circle cx="472" cy="1065" r="9.4" fill="#040e46"/>
<line x1="320" y1="1070" x2="320" y2="1092" stroke="#040e46" stroke-width="3.6"/><circle cx="320" cy="1070" r="6.6" fill="#040e46"/>
<path d="M615,1072 L720.5,1072 L720.5,1190" fill="none" stroke="#d24a2b" stroke-width="3.4"/>
<circle cx="615" cy="1072" r="13.8" fill="#fff"/><circle cx="615" cy="1072" r="9.4" fill="#d24a2b"/>
<rect x="209" y="1092" width="137" height="33" rx="8" fill="#fff" stroke="#040e46" stroke-width="3.2"/>
<rect x="140.6" y="873.4" width="424.4" height="105.6" rx="5" fill="#040e46"/>
<line x1="256.7" y1="889" x2="256.7" y2="964" stroke="#fff" stroke-width="2.6" stroke-dasharray="0.1,4.9" stroke-linecap="round"/>
<rect x="611.5" y="1188" width="372" height="134" rx="5" fill="#d24a2b"/>
<line x1="627" y1="1278" x2="966" y2="1278" stroke="#fff" stroke-width="2.9" stroke-dasharray="0.1,5.45" stroke-linecap="round"/>
<rect x="20.5" y="1260" width="158" height="186" fill="#fff" stroke="#6d6d6d" stroke-width="1"/>
<path d="M36.60,1276.00h3.43v3.43h-3.43zM36.60,1279.38h3.43v3.43h-3.43zM36.60,1282.76h3.43v3.43h-3.43zM36.60,1286.14h3.43v3.43h-3.43zM36.60,1289.51h3.43v3.43h-3.43zM36.60,1292.89h3.43v3.43h-3.43zM36.60,1296.27h3.43v3.43h-3.43zM39.98,1276.00h3.43v3.43h-3.43zM39.98,1296.27h3.43v3.43h-3.43zM43.36,1276.00h3.43v3.43h-3.43zM43.36,1282.76h3.43v3.43h-3.43zM43.36,1286.14h3.43v3.43h-3.43zM43.36,1289.51h3.43v3.43h-3.43zM43.36,1296.27h3.43v3.43h-3.43zM46.74,1276.00h3.43v3.43h-3.43zM46.74,1282.76h3.43v3.43h-3.43zM46.74,1286.14h3.43v3.43h-3.43zM46.74,1289.51h3.43v3.43h-3.43zM46.74,1296.27h3.43v3.43h-3.43zM50.11,1276.00h3.43v3.43h-3.43zM50.11,1282.76h3.43v3.43h-3.43zM50.11,1286.14h3.43v3.43h-3.43zM50.11,1289.51h3.43v3.43h-3.43zM50.11,1296.27h3.43v3.43h-3.43zM53.49,1276.00h3.43v3.43h-3.43zM53.49,1296.27h3.43v3.43h-3.43zM56.87,1276.00h3.43v3.43h-3.43zM56.87,1279.38h3.43v3.43h-3.43zM56.87,1282.76h3.43v3.43h-3.43zM56.87,1286.14h3.43v3.43h-3.43zM56.87,1289.51h3.43v3.43h-3.43zM56.87,1292.89h3.43v3.43h-3.43zM56.87,1296.27h3.43v3.43h-3.43zM137.95,1276.00h3.43v3.43h-3.43zM137.95,1279.38h3.43v3.43h-3.43zM137.95,1282.76h3.43v3.43h-3.43zM137.95,1286.14h3.43v3.43h-3.43zM137.95,1289.51h3.43v3.43h-3.43zM137.95,1292.89h3.43v3.43h-3.43zM137.95,1296.27h3.43v3.43h-3.43zM141.33,1276.00h3.43v3.43h-3.43zM141.33,1296.27h3.43v3.43h-3.43zM144.71,1276.00h3.43v3.43h-3.43zM144.71,1282.76h3.43v3.43h-3.43zM144.71,1286.14h3.43v3.43h-3.43zM144.71,1289.51h3.43v3.43h-3.43zM144.71,1296.27h3.43v3.43h-3.43zM148.09,1276.00h3.43v3.43h-3.43zM148.09,1282.76h3.43v3.43h-3.43zM148.09,1286.14h3.43v3.43h-3.43zM148.09,1289.51h3.43v3.43h-3.43zM148.09,1296.27h3.43v3.43h-3.43zM151.46,1276.00h3.43v3.43h-3.43zM151.46,1282.76h3.43v3.43h-3.43zM151.46,1286.14h3.43v3.43h-3.43zM151.46,1289.51h3.43v3.43h-3.43zM151.46,1296.27h3.43v3.43h-3.43zM154.84,1276.00h3.43v3.43h-3.43zM154.84,1296.27h3.43v3.43h-3.43zM158.22,1276.00h3.43v3.43h-3.43zM158.22,1279.38h3.43v3.43h-3.43zM158.22,1282.76h3.43v3.43h-3.43zM158.22,1286.14h3.43v3.43h-3.43zM158.22,1289.51h3.43v3.43h-3.43zM158.22,1292.89h3.43v3.43h-3.43zM158.22,1296.27h3.43v3.43h-3.43zM36.60,1377.35h3.43v3.43h-3.43zM36.60,1380.73h3.43v3.43h-3.43zM36.60,1384.11h3.43v3.43h-3.43zM36.60,1387.49h3.43v3.43h-3.43zM36.60,1390.86h3.43v3.43h-3.43zM36.60,1394.24h3.43v3.43h-3.43zM36.60,1397.62h3.43v3.43h-3.43zM39.98,1377.35h3.43v3.43h-3.43zM39.98,1397.62h3.43v3.43h-3.43zM43.36,1377.35h3.43v3.43h-3.43zM43.36,1384.11h3.43v3.43h-3.43zM43.36,1387.49h3.43v3.43h-3.43zM43.36,1390.86h3.43v3.43h-3.43zM43.36,1397.62h3.43v3.43h-3.43zM46.74,1377.35h3.43v3.43h-3.43zM46.74,1384.11h3.43v3.43h-3.43zM46.74,1387.49h3.43v3.43h-3.43zM46.74,1390.86h3.43v3.43h-3.43zM46.74,1397.62h3.43v3.43h-3.43zM50.11,1377.35h3.43v3.43h-3.43zM50.11,1384.11h3.43v3.43h-3.43zM50.11,1387.49h3.43v3.43h-3.43zM50.11,1390.86h3.43v3.43h-3.43zM50.11,1397.62h3.43v3.43h-3.43zM53.49,1377.35h3.43v3.43h-3.43zM53.49,1397.62h3.43v3.43h-3.43zM56.87,1377.35h3.43v3.43h-3.43zM56.87,1380.73h3.43v3.43h-3.43zM56.87,1384.11h3.43v3.43h-3.43zM56.87,1387.49h3.43v3.43h-3.43zM56.87,1390.86h3.43v3.43h-3.43zM56.87,1394.24h3.43v3.43h-3.43zM56.87,1397.62h3.43v3.43h-3.43zM131.19,1370.59h3.43v3.43h-3.43zM131.19,1373.97h3.43v3.43h-3.43zM131.19,1377.35h3.43v3.43h-3.43zM131.19,1380.73h3.43v3.43h-3.43zM131.19,1384.11h3.43v3.43h-3.43zM134.57,1370.59h3.43v3.43h-3.43zM134.57,1384.11h3.43v3.43h-3.43zM137.95,1370.59h3.43v3.43h-3.43zM137.95,1377.35h3.43v3.43h-3.43zM137.95,1384.11h3.43v3.43h-3.43zM141.33,1370.59h3.43v3.43h-3.43zM141.33,1384.11h3.43v3.43h-3.43zM144.71,1370.59h3.43v3.43h-3.43zM144.71,1373.97h3.43v3.43h-3.43zM144.71,1377.35h3.43v3.43h-3.43zM144.71,1380.73h3.43v3.43h-3.43zM144.71,1384.11h3.43v3.43h-3.43zM36.60,1303.03h3.43v3.43h-3.43zM36.60,1313.16h3.43v3.43h-3.43zM36.60,1323.30h3.43v3.43h-3.43zM36.60,1336.81h3.43v3.43h-3.43zM36.60,1340.19h3.43v3.43h-3.43zM36.60,1343.57h3.43v3.43h-3.43zM36.60,1353.70h3.43v3.43h-3.43zM36.60,1370.59h3.43v3.43h-3.43zM39.98,1303.03h3.43v3.43h-3.43zM39.98,1309.78h3.43v3.43h-3.43zM39.98,1313.16h3.43v3.43h-3.43zM39.98,1316.54h3.43v3.43h-3.43zM39.98,1319.92h3.43v3.43h-3.43zM39.98,1323.30h3.43v3.43h-3.43zM39.98,1326.68h3.43v3.43h-3.43zM39.98,1340.19h3.43v3.43h-3.43zM39.98,1346.95h3.43v3.43h-3.43zM39.98,1350.32h3.43v3.43h-3.43zM39.98,1367.22h3.43v3.43h-3.43zM39.98,1370.59h3.43v3.43h-3.43zM43.36,1303.03h3.43v3.43h-3.43zM43.36,1306.41h3.43v3.43h-3.43zM43.36,1313.16h3.43v3.43h-3.43zM43.36,1319.92h3.43v3.43h-3.43zM43.36,1330.05h3.43v3.43h-3.43zM43.36,1333.43h3.43v3.43h-3.43zM43.36,1340.19h3.43v3.43h-3.43zM43.36,1346.95h3.43v3.43h-3.43zM43.36,1350.32h3.43v3.43h-3.43zM43.36,1360.46h3.43v3.43h-3.43zM43.36,1363.84h3.43v3.43h-3.43zM43.36,1367.22h3.43v3.43h-3.43zM46.74,1306.41h3.43v3.43h-3.43zM46.74,1309.78h3.43v3.43h-3.43zM46.74,1313.16h3.43v3.43h-3.43zM46.74,1316.54h3.43v3.43h-3.43zM46.74,1323.30h3.43v3.43h-3.43zM46.74,1330.05h3.43v3.43h-3.43zM46.74,1333.43h3.43v3.43h-3.43zM46.74,1340.19h3.43v3.43h-3.43zM46.74,1346.95h3.43v3.43h-3.43zM46.74,1350.32h3.43v3.43h-3.43zM46.74,1353.70h3.43v3.43h-3.43zM46.74,1357.08h3.43v3.43h-3.43zM46.74,1367.22h3.43v3.43h-3.43zM50.11,1303.03h3.43v3.43h-3.43zM50.11,1306.41h3.43v3.43h-3.43zM50.11,1316.54h3.43v3.43h-3.43zM50.11,1323.30h3.43v3.43h-3.43zM50.11,1326.68h3.43v3.43h-3.43zM50.11,1333.43h3.43v3.43h-3.43zM50.11,1336.81h3.43v3.43h-3.43zM50.11,1340.19h3.43v3.43h-3.43zM50.11,1343.57h3.43v3.43h-3.43zM50.11,1350.32h3.43v3.43h-3.43zM50.11,1357.08h3.43v3.43h-3.43zM50.11,1360.46h3.43v3.43h-3.43zM50.11,1367.22h3.43v3.43h-3.43zM53.49,1306.41h3.43v3.43h-3.43zM53.49,1309.78h3.43v3.43h-3.43zM53.49,1319.92h3.43v3.43h-3.43zM53.49,1323.30h3.43v3.43h-3.43zM53.49,1333.43h3.43v3.43h-3.43zM53.49,1346.95h3.43v3.43h-3.43zM53.49,1350.32h3.43v3.43h-3.43zM53.49,1353.70h3.43v3.43h-3.43zM53.49,1360.46h3.43v3.43h-3.43zM53.49,1367.22h3.43v3.43h-3.43zM56.87,1306.41h3.43v3.43h-3.43zM56.87,1309.78h3.43v3.43h-3.43zM56.87,1316.54h3.43v3.43h-3.43zM56.87,1319.92h3.43v3.43h-3.43zM56.87,1333.43h3.43v3.43h-3.43zM56.87,1340.19h3.43v3.43h-3.43zM56.87,1343.57h3.43v3.43h-3.43zM56.87,1346.95h3.43v3.43h-3.43zM56.87,1350.32h3.43v3.43h-3.43zM56.87,1353.70h3.43v3.43h-3.43zM56.87,1357.08h3.43v3.43h-3.43zM56.87,1360.46h3.43v3.43h-3.43zM56.87,1367.22h3.43v3.43h-3.43zM56.87,1370.59h3.43v3.43h-3.43zM60.25,1319.92h3.43v3.43h-3.43zM60.25,1323.30h3.43v3.43h-3.43zM60.25,1326.68h3.43v3.43h-3.43zM60.25,1340.19h3.43v3.43h-3.43zM60.25,1346.95h3.43v3.43h-3.43zM60.25,1353.70h3.43v3.43h-3.43zM60.25,1360.46h3.43v3.43h-3.43zM63.63,1289.51h3.43v3.43h-3.43zM63.63,1303.03h3.43v3.43h-3.43zM63.63,1319.92h3.43v3.43h-3.43zM63.63,1330.05h3.43v3.43h-3.43zM63.63,1346.95h3.43v3.43h-3.43zM63.63,1357.08h3.43v3.43h-3.43zM63.63,1363.84h3.43v3.43h-3.43zM63.63,1370.59h3.43v3.43h-3.43zM63.63,1377.35h3.43v3.43h-3.43zM63.63,1380.73h3.43v3.43h-3.43zM63.63,1387.49h3.43v3.43h-3.43zM63.63,1397.62h3.43v3.43h-3.43zM67.01,1276.00h3.43v3.43h-3.43zM67.01,1279.38h3.43v3.43h-3.43zM67.01,1286.14h3.43v3.43h-3.43zM67.01,1289.51h3.43v3.43h-3.43zM67.01,1299.65h3.43v3.43h-3.43zM67.01,1306.41h3.43v3.43h-3.43zM67.01,1313.16h3.43v3.43h-3.43zM67.01,1316.54h3.43v3.43h-3.43zM67.01,1330.05h3.43v3.43h-3.43zM67.01,1336.81h3.43v3.43h-3.43zM67.01,1340.19h3.43v3.43h-3.43zM67.01,1343.57h3.43v3.43h-3.43zM67.01,1360.46h3.43v3.43h-3.43zM67.01,1363.84h3.43v3.43h-3.43zM67.01,1367.22h3.43v3.43h-3.43zM67.01,1370.59h3.43v3.43h-3.43zM67.01,1373.97h3.43v3.43h-3.43zM67.01,1377.35h3.43v3.43h-3.43zM67.01,1384.11h3.43v3.43h-3.43zM67.01,1387.49h3.43v3.43h-3.43zM67.01,1397.62h3.43v3.43h-3.43zM70.38,1276.00h3.43v3.43h-3.43zM70.38,1279.38h3.43v3.43h-3.43zM70.38,1286.14h3.43v3.43h-3.43zM70.38,1296.27h3.43v3.43h-3.43zM70.38,1303.03h3.43v3.43h-3.43zM70.38,1306.41h3.43v3.43h-3.43zM70.38,1309.78h3.43v3.43h-3.43zM70.38,1313.16h3.43v3.43h-3.43zM70.38,1319.92h3.43v3.43h-3.43zM70.38,1323.30h3.43v3.43h-3.43zM70.38,1326.68h3.43v3.43h-3.43zM70.38,1333.43h3.43v3.43h-3.43zM70.38,1353.70h3.43v3.43h-3.43zM70.38,1357.08h3.43v3.43h-3.43zM70.38,1360.46h3.43v3.43h-3.43zM70.38,1363.84h3.43v3.43h-3.43zM70.38,1367.22h3.43v3.43h-3.43zM70.38,1373.97h3.43v3.43h-3.43zM70.38,1377.35h3.43v3.43h-3.43zM70.38,1380.73h3.43v3.43h-3.43zM70.38,1397.62h3.43v3.43h-3.43zM73.76,1282.76h3.43v3.43h-3.43zM73.76,1292.89h3.43v3.43h-3.43zM73.76,1296.27h3.43v3.43h-3.43zM73.76,1306.41h3.43v3.43h-3.43zM73.76,1323.30h3.43v3.43h-3.43zM73.76,1330.05h3.43v3.43h-3.43zM73.76,1346.95h3.43v3.43h-3.43zM73.76,1367.22h3.43v3.43h-3.43zM73.76,1377.35h3.43v3.43h-3.43zM73.76,1380.73h3.43v3.43h-3.43zM73.76,1384.11h3.43v3.43h-3.43zM73.76,1394.24h3.43v3.43h-3.43zM73.76,1397.62h3.43v3.43h-3.43zM77.14,1279.38h3.43v3.43h-3.43zM77.14,1286.14h3.43v3.43h-3.43zM77.14,1289.51h3.43v3.43h-3.43zM77.14,1296.27h3.43v3.43h-3.43zM77.14,1299.65h3.43v3.43h-3.43zM77.14,1319.92h3.43v3.43h-3.43zM77.14,1326.68h3.43v3.43h-3.43zM77.14,1330.05h3.43v3.43h-3.43zM77.14,1336.81h3.43v3.43h-3.43zM77.14,1357.08h3.43v3.43h-3.43zM77.14,1360.46h3.43v3.43h-3.43zM77.14,1370.59h3.43v3.43h-3.43zM77.14,1387.49h3.43v3.43h-3.43zM80.52,1276.00h3.43v3.43h-3.43zM80.52,1286.14h3.43v3.43h-3.43zM80.52,1296.27h3.43v3.43h-3.43zM80.52,1303.03h3.43v3.43h-3.43zM80.52,1309.78h3.43v3.43h-3.43zM80.52,1319.92h3.43v3.43h-3.43zM80.52,1323.30h3.43v3.43h-3.43zM80.52,1326.68h3.43v3.43h-3.43zM80.52,1330.05h3.43v3.43h-3.43zM80.52,1340.19h3.43v3.43h-3.43zM80.52,1343.57h3.43v3.43h-3.43zM80.52,1346.95h3.43v3.43h-3.43zM80.52,1357.08h3.43v3.43h-3.43zM80.52,1363.84h3.43v3.43h-3.43zM80.52,1367.22h3.43v3.43h-3.43zM80.52,1370.59h3.43v3.43h-3.43zM80.52,1377.35h3.43v3.43h-3.43zM80.52,1380.73h3.43v3.43h-3.43zM80.52,1387.49h3.43v3.43h-3.43zM80.52,1394.24h3.43v3.43h-3.43zM83.90,1276.00h3.43v3.43h-3.43zM83.90,1279.38h3.43v3.43h-3.43zM83.90,1286.14h3.43v3.43h-3.43zM83.90,1289.51h3.43v3.43h-3.43zM83.90,1292.89h3.43v3.43h-3.43zM83.90,1299.65h3.43v3.43h-3.43zM83.90,1303.03h3.43v3.43h-3.43zM83.90,1326.68h3.43v3.43h-3.43zM83.90,1340.19h3.43v3.43h-3.43zM83.90,1343.57h3.43v3.43h-3.43zM83.90,1350.32h3.43v3.43h-3.43zM83.90,1360.46h3.43v3.43h-3.43zM83.90,1363.84h3.43v3.43h-3.43zM83.90,1370.59h3.43v3.43h-3.43zM83.90,1373.97h3.43v3.43h-3.43zM83.90,1380.73h3.43v3.43h-3.43zM83.90,1387.49h3.43v3.43h-3.43zM83.90,1390.86h3.43v3.43h-3.43zM83.90,1397.62h3.43v3.43h-3.43zM87.28,1276.00h3.43v3.43h-3.43zM87.28,1289.51h3.43v3.43h-3.43zM87.28,1306.41h3.43v3.43h-3.43zM87.28,1309.78h3.43v3.43h-3.43zM87.28,1313.16h3.43v3.43h-3.43zM87.28,1316.54h3.43v3.43h-3.43zM87.28,1330.05h3.43v3.43h-3.43zM87.28,1333.43h3.43v3.43h-3.43zM87.28,1336.81h3.43v3.43h-3.43zM87.28,1350.32h3.43v3.43h-3.43zM87.28,1353.70h3.43v3.43h-3.43zM87.28,1360.46h3.43v3.43h-3.43zM87.28,1367.22h3.43v3.43h-3.43zM87.28,1370.59h3.43v3.43h-3.43zM87.28,1377.35h3.43v3.43h-3.43zM87.28,1384.11h3.43v3.43h-3.43zM87.28,1394.24h3.43v3.43h-3.43zM87.28,1397.62h3.43v3.43h-3.43zM90.65,1279.38h3.43v3.43h-3.43zM90.65,1282.76h3.43v3.43h-3.43zM90.65,1286.14h3.43v3.43h-3.43zM90.65,1292.89h3.43v3.43h-3.43zM90.65,1313.16h3.43v3.43h-3.43zM90.65,1330.05h3.43v3.43h-3.43zM90.65,1346.95h3.43v3.43h-3.43zM90.65,1367.22h3.43v3.43h-3.43zM90.65,1373.97h3.43v3.43h-3.43zM90.65,1377.35h3.43v3.43h-3.43zM90.65,1380.73h3.43v3.43h-3.43zM90.65,1384.11h3.43v3.43h-3.43zM90.65,1387.49h3.43v3.43h-3.43zM90.65,1397.62h3.43v3.43h-3.43zM94.03,1282.76h3.43v3.43h-3.43zM94.03,1296.27h3.43v3.43h-3.43zM94.03,1316.54h3.43v3.43h-3.43zM94.03,1326.68h3.43v3.43h-3.43zM94.03,1330.05h3.43v3.43h-3.43zM94.03,1333.43h3.43v3.43h-3.43zM94.03,1336.81h3.43v3.43h-3.43zM94.03,1340.19h3.43v3.43h-3.43zM94.03,1343.57h3.43v3.43h-3.43zM94.03,1346.95h3.43v3.43h-3.43zM94.03,1377.35h3.43v3.43h-3.43zM94.03,1387.49h3.43v3.43h-3.43zM94.03,1394.24h3.43v3.43h-3.43zM94.03,1397.62h3.43v3.43h-3.43zM97.41,1276.00h3.43v3.43h-3.43zM97.41,1279.38h3.43v3.43h-3.43zM97.41,1286.14h3.43v3.43h-3.43zM97.41,1292.89h3.43v3.43h-3.43zM97.41,1303.03h3.43v3.43h-3.43zM97.41,1306.41h3.43v3.43h-3.43zM97.41,1316.54h3.43v3.43h-3.43zM97.41,1323.30h3.43v3.43h-3.43zM97.41,1326.68h3.43v3.43h-3.43zM97.41,1330.05h3.43v3.43h-3.43zM97.41,1333.43h3.43v3.43h-3.43zM97.41,1336.81h3.43v3.43h-3.43zM97.41,1343.57h3.43v3.43h-3.43zM97.41,1353.70h3.43v3.43h-3.43zM97.41,1363.84h3.43v3.43h-3.43zM97.41,1370.59h3.43v3.43h-3.43zM97.41,1373.97h3.43v3.43h-3.43zM97.41,1380.73h3.43v3.43h-3.43zM97.41,1394.24h3.43v3.43h-3.43zM100.79,1282.76h3.43v3.43h-3.43zM100.79,1289.51h3.43v3.43h-3.43zM100.79,1292.89h3.43v3.43h-3.43zM100.79,1296.27h3.43v3.43h-3.43zM100.79,1303.03h3.43v3.43h-3.43zM100.79,1306.41h3.43v3.43h-3.43zM100.79,1313.16h3.43v3.43h-3.43zM100.79,1316.54h3.43v3.43h-3.43zM100.79,1323.30h3.43v3.43h-3.43zM100.79,1343.57h3.43v3.43h-3.43zM100.79,1346.95h3.43v3.43h-3.43zM100.79,1360.46h3.43v3.43h-3.43zM100.79,1363.84h3.43v3.43h-3.43zM100.79,1384.11h3.43v3.43h-3.43zM100.79,1387.49h3.43v3.43h-3.43zM104.17,1276.00h3.43v3.43h-3.43zM104.17,1279.38h3.43v3.43h-3.43zM104.17,1282.76h3.43v3.43h-3.43zM104.17,1286.14h3.43v3.43h-3.43zM104.17,1292.89h3.43v3.43h-3.43zM104.17,1299.65h3.43v3.43h-3.43zM104.17,1303.03h3.43v3.43h-3.43zM104.17,1316.54h3.43v3.43h-3.43zM104.17,1319.92h3.43v3.43h-3.43zM104.17,1323.30h3.43v3.43h-3.43zM104.17,1326.68h3.43v3.43h-3.43zM104.17,1336.81h3.43v3.43h-3.43zM104.17,1340.19h3.43v3.43h-3.43zM104.17,1353.70h3.43v3.43h-3.43zM104.17,1357.08h3.43v3.43h-3.43zM104.17,1360.46h3.43v3.43h-3.43zM104.17,1367.22h3.43v3.43h-3.43zM104.17,1377.35h3.43v3.43h-3.43zM104.17,1390.86h3.43v3.43h-3.43zM104.17,1394.24h3.43v3.43h-3.43zM104.17,1397.62h3.43v3.43h-3.43zM107.55,1279.38h3.43v3.43h-3.43zM107.55,1282.76h3.43v3.43h-3.43zM107.55,1289.51h3.43v3.43h-3.43zM107.55,1296.27h3.43v3.43h-3.43zM107.55,1303.03h3.43v3.43h-3.43zM107.55,1306.41h3.43v3.43h-3.43zM107.55,1313.16h3.43v3.43h-3.43zM107.55,1316.54h3.43v3.43h-3.43zM107.55,1326.68h3.43v3.43h-3.43zM107.55,1330.05h3.43v3.43h-3.43zM107.55,1333.43h3.43v3.43h-3.43zM107.55,1340.19h3.43v3.43h-3.43zM107.55,1343.57h3.43v3.43h-3.43zM107.55,1363.84h3.43v3.43h-3.43zM107.55,1370.59h3.43v3.43h-3.43zM107.55,1373.97h3.43v3.43h-3.43zM107.55,1377.35h3.43v3.43h-3.43zM107.55,1387.49h3.43v3.43h-3.43zM107.55,1390.86h3.43v3.43h-3.43zM107.55,1394.24h3.43v3.43h-3.43zM107.55,1397.62h3.43v3.43h-3.43zM110.92,1276.00h3.43v3.43h-3.43zM110.92,1279.38h3.43v3.43h-3.43zM110.92,1282.76h3.43v3.43h-3.43zM110.92,1303.03h3.43v3.43h-3.43zM110.92,1313.16h3.43v3.43h-3.43zM110.92,1316.54h3.43v3.43h-3.43zM110.92,1340.19h3.43v3.43h-3.43zM110.92,1350.32h3.43v3.43h-3.43zM110.92,1353.70h3.43v3.43h-3.43zM110.92,1363.84h3.43v3.43h-3.43zM110.92,1370.59h3.43v3.43h-3.43zM110.92,1380.73h3.43v3.43h-3.43zM110.92,1384.11h3.43v3.43h-3.43zM110.92,1397.62h3.43v3.43h-3.43zM114.30,1276.00h3.43v3.43h-3.43zM114.30,1286.14h3.43v3.43h-3.43zM114.30,1303.03h3.43v3.43h-3.43zM114.30,1343.57h3.43v3.43h-3.43zM114.30,1346.95h3.43v3.43h-3.43zM114.30,1350.32h3.43v3.43h-3.43zM114.30,1360.46h3.43v3.43h-3.43zM114.30,1363.84h3.43v3.43h-3.43zM114.30,1367.22h3.43v3.43h-3.43zM114.30,1370.59h3.43v3.43h-3.43zM114.30,1373.97h3.43v3.43h-3.43zM114.30,1380.73h3.43v3.43h-3.43zM114.30,1384.11h3.43v3.43h-3.43zM114.30,1387.49h3.43v3.43h-3.43zM114.30,1397.62h3.43v3.43h-3.43zM117.68,1276.00h3.43v3.43h-3.43zM117.68,1279.38h3.43v3.43h-3.43zM117.68,1289.51h3.43v3.43h-3.43zM117.68,1292.89h3.43v3.43h-3.43zM117.68,1296.27h3.43v3.43h-3.43zM117.68,1299.65h3.43v3.43h-3.43zM117.68,1303.03h3.43v3.43h-3.43zM117.68,1313.16h3.43v3.43h-3.43zM117.68,1316.54h3.43v3.43h-3.43zM117.68,1319.92h3.43v3.43h-3.43zM117.68,1323.30h3.43v3.43h-3.43zM117.68,1330.05h3.43v3.43h-3.43zM117.68,1340.19h3.43v3.43h-3.43zM117.68,1343.57h3.43v3.43h-3.43zM117.68,1353.70h3.43v3.43h-3.43zM117.68,1363.84h3.43v3.43h-3.43zM117.68,1367.22h3.43v3.43h-3.43zM117.68,1370.59h3.43v3.43h-3.43zM117.68,1380.73h3.43v3.43h-3.43zM117.68,1390.86h3.43v3.43h-3.43zM121.06,1276.00h3.43v3.43h-3.43zM121.06,1279.38h3.43v3.43h-3.43zM121.06,1282.76h3.43v3.43h-3.43zM121.06,1286.14h3.43v3.43h-3.43zM121.06,1299.65h3.43v3.43h-3.43zM121.06,1303.03h3.43v3.43h-3.43zM121.06,1306.41h3.43v3.43h-3.43zM121.06,1309.78h3.43v3.43h-3.43zM121.06,1326.68h3.43v3.43h-3.43zM121.06,1333.43h3.43v3.43h-3.43zM121.06,1340.19h3.43v3.43h-3.43zM121.06,1353.70h3.43v3.43h-3.43zM121.06,1357.08h3.43v3.43h-3.43zM121.06,1363.84h3.43v3.43h-3.43zM121.06,1367.22h3.43v3.43h-3.43zM121.06,1370.59h3.43v3.43h-3.43zM121.06,1384.11h3.43v3.43h-3.43zM121.06,1390.86h3.43v3.43h-3.43zM121.06,1397.62h3.43v3.43h-3.43zM124.44,1279.38h3.43v3.43h-3.43zM124.44,1289.51h3.43v3.43h-3.43zM124.44,1296.27h3.43v3.43h-3.43zM124.44,1299.65h3.43v3.43h-3.43zM124.44,1303.03h3.43v3.43h-3.43zM124.44,1306.41h3.43v3.43h-3.43zM124.44,1309.78h3.43v3.43h-3.43zM124.44,1316.54h3.43v3.43h-3.43zM124.44,1323.30h3.43v3.43h-3.43zM124.44,1326.68h3.43v3.43h-3.43zM124.44,1330.05h3.43v3.43h-3.43zM124.44,1343.57h3.43v3.43h-3.43zM124.44,1346.95h3.43v3.43h-3.43zM124.44,1353.70h3.43v3.43h-3.43zM124.44,1360.46h3.43v3.43h-3.43zM124.44,1363.84h3.43v3.43h-3.43zM124.44,1373.97h3.43v3.43h-3.43zM124.44,1380.73h3.43v3.43h-3.43zM124.44,1384.11h3.43v3.43h-3.43zM124.44,1390.86h3.43v3.43h-3.43zM124.44,1394.24h3.43v3.43h-3.43zM124.44,1397.62h3.43v3.43h-3.43zM127.82,1279.38h3.43v3.43h-3.43zM127.82,1282.76h3.43v3.43h-3.43zM127.82,1289.51h3.43v3.43h-3.43zM127.82,1303.03h3.43v3.43h-3.43zM127.82,1309.78h3.43v3.43h-3.43zM127.82,1313.16h3.43v3.43h-3.43zM127.82,1316.54h3.43v3.43h-3.43zM127.82,1326.68h3.43v3.43h-3.43zM127.82,1330.05h3.43v3.43h-3.43zM127.82,1340.19h3.43v3.43h-3.43zM127.82,1343.57h3.43v3.43h-3.43zM127.82,1346.95h3.43v3.43h-3.43zM127.82,1350.32h3.43v3.43h-3.43zM127.82,1353.70h3.43v3.43h-3.43zM127.82,1357.08h3.43v3.43h-3.43zM127.82,1363.84h3.43v3.43h-3.43zM127.82,1380.73h3.43v3.43h-3.43zM127.82,1384.11h3.43v3.43h-3.43zM127.82,1387.49h3.43v3.43h-3.43zM127.82,1390.86h3.43v3.43h-3.43zM127.82,1394.24h3.43v3.43h-3.43zM131.19,1289.51h3.43v3.43h-3.43zM131.19,1292.89h3.43v3.43h-3.43zM131.19,1296.27h3.43v3.43h-3.43zM131.19,1303.03h3.43v3.43h-3.43zM131.19,1306.41h3.43v3.43h-3.43zM131.19,1323.30h3.43v3.43h-3.43zM131.19,1336.81h3.43v3.43h-3.43zM131.19,1343.57h3.43v3.43h-3.43zM131.19,1363.84h3.43v3.43h-3.43zM131.19,1390.86h3.43v3.43h-3.43zM131.19,1394.24h3.43v3.43h-3.43zM131.19,1397.62h3.43v3.43h-3.43zM134.57,1309.78h3.43v3.43h-3.43zM134.57,1316.54h3.43v3.43h-3.43zM134.57,1319.92h3.43v3.43h-3.43zM134.57,1323.30h3.43v3.43h-3.43zM134.57,1330.05h3.43v3.43h-3.43zM134.57,1346.95h3.43v3.43h-3.43zM134.57,1363.84h3.43v3.43h-3.43zM134.57,1387.49h3.43v3.43h-3.43zM134.57,1394.24h3.43v3.43h-3.43zM137.95,1306.41h3.43v3.43h-3.43zM137.95,1313.16h3.43v3.43h-3.43zM137.95,1316.54h3.43v3.43h-3.43zM137.95,1319.92h3.43v3.43h-3.43zM137.95,1333.43h3.43v3.43h-3.43zM137.95,1343.57h3.43v3.43h-3.43zM137.95,1353.70h3.43v3.43h-3.43zM137.95,1357.08h3.43v3.43h-3.43zM137.95,1360.46h3.43v3.43h-3.43zM137.95,1363.84h3.43v3.43h-3.43zM137.95,1367.22h3.43v3.43h-3.43zM137.95,1390.86h3.43v3.43h-3.43zM137.95,1397.62h3.43v3.43h-3.43zM141.33,1306.41h3.43v3.43h-3.43zM141.33,1313.16h3.43v3.43h-3.43zM141.33,1319.92h3.43v3.43h-3.43zM141.33,1330.05h3.43v3.43h-3.43zM141.33,1333.43h3.43v3.43h-3.43zM141.33,1350.32h3.43v3.43h-3.43zM141.33,1363.84h3.43v3.43h-3.43zM141.33,1367.22h3.43v3.43h-3.43zM144.71,1303.03h3.43v3.43h-3.43zM144.71,1309.78h3.43v3.43h-3.43zM144.71,1313.16h3.43v3.43h-3.43zM144.71,1333.43h3.43v3.43h-3.43zM144.71,1340.19h3.43v3.43h-3.43zM144.71,1343.57h3.43v3.43h-3.43zM144.71,1346.95h3.43v3.43h-3.43zM144.71,1353.70h3.43v3.43h-3.43zM144.71,1357.08h3.43v3.43h-3.43zM144.71,1367.22h3.43v3.43h-3.43zM144.71,1387.49h3.43v3.43h-3.43zM144.71,1390.86h3.43v3.43h-3.43zM144.71,1394.24h3.43v3.43h-3.43zM144.71,1397.62h3.43v3.43h-3.43zM148.09,1316.54h3.43v3.43h-3.43zM148.09,1323.30h3.43v3.43h-3.43zM148.09,1336.81h3.43v3.43h-3.43zM148.09,1343.57h3.43v3.43h-3.43zM148.09,1353.70h3.43v3.43h-3.43zM148.09,1357.08h3.43v3.43h-3.43zM148.09,1360.46h3.43v3.43h-3.43zM148.09,1363.84h3.43v3.43h-3.43zM148.09,1367.22h3.43v3.43h-3.43zM148.09,1377.35h3.43v3.43h-3.43zM148.09,1380.73h3.43v3.43h-3.43zM148.09,1387.49h3.43v3.43h-3.43zM148.09,1390.86h3.43v3.43h-3.43zM148.09,1397.62h3.43v3.43h-3.43zM151.46,1303.03h3.43v3.43h-3.43zM151.46,1313.16h3.43v3.43h-3.43zM151.46,1316.54h3.43v3.43h-3.43zM151.46,1319.92h3.43v3.43h-3.43zM151.46,1330.05h3.43v3.43h-3.43zM151.46,1336.81h3.43v3.43h-3.43zM151.46,1340.19h3.43v3.43h-3.43zM151.46,1343.57h3.43v3.43h-3.43zM151.46,1353.70h3.43v3.43h-3.43zM151.46,1360.46h3.43v3.43h-3.43zM151.46,1367.22h3.43v3.43h-3.43zM151.46,1370.59h3.43v3.43h-3.43zM151.46,1377.35h3.43v3.43h-3.43zM151.46,1390.86h3.43v3.43h-3.43zM154.84,1303.03h3.43v3.43h-3.43zM154.84,1306.41h3.43v3.43h-3.43zM154.84,1309.78h3.43v3.43h-3.43zM154.84,1313.16h3.43v3.43h-3.43zM154.84,1319.92h3.43v3.43h-3.43zM154.84,1323.30h3.43v3.43h-3.43zM154.84,1326.68h3.43v3.43h-3.43zM154.84,1336.81h3.43v3.43h-3.43zM154.84,1350.32h3.43v3.43h-3.43zM154.84,1353.70h3.43v3.43h-3.43zM154.84,1363.84h3.43v3.43h-3.43zM154.84,1370.59h3.43v3.43h-3.43zM154.84,1377.35h3.43v3.43h-3.43zM154.84,1387.49h3.43v3.43h-3.43zM154.84,1394.24h3.43v3.43h-3.43zM154.84,1397.62h3.43v3.43h-3.43zM158.22,1306.41h3.43v3.43h-3.43zM158.22,1309.78h3.43v3.43h-3.43zM158.22,1316.54h3.43v3.43h-3.43zM158.22,1319.92h3.43v3.43h-3.43zM158.22,1326.68h3.43v3.43h-3.43zM158.22,1336.81h3.43v3.43h-3.43zM158.22,1340.19h3.43v3.43h-3.43zM158.22,1346.95h3.43v3.43h-3.43zM158.22,1353.70h3.43v3.43h-3.43zM158.22,1357.08h3.43v3.43h-3.43zM158.22,1367.22h3.43v3.43h-3.43zM158.22,1397.62h3.43v3.43h-3.43z" fill="#111"/>
</svg>
<div class="t" style="left:22.6px;top:43.6px;font-size:39.3px;letter-spacing:1.71px;font-weight:bold;color:#040e46;-webkit-text-stroke:0.45px #040e46;">鑿山掘隧引水解構圖</div>
<div class="t" style="left:76.7px;top:114.8px;font-size:27.8px;letter-spacing:1.52px;font-weight:bold;color:#231815;-webkit-text-stroke:0.33px #231815;">大壩</div>
<div class="t" style="left:58.1px;top:254.6px;font-size:23.8px;letter-spacing:0.53px;font-weight:normal;color:#231815;">工程上游</div>
<div class="t" style="left:253.5px;top:241.2px;font-size:33.1px;letter-spacing:2.58px;font-weight:bold;color:#fff;-webkit-text-stroke:0.4px #fff;">山體</div>
<div class="t" style="left:259.0px;top:666.6px;font-size:33.2px;letter-spacing:2.34px;font-weight:bold;color:#fff;-webkit-text-stroke:0.4px #fff;">山體</div>
<div class="t" style="left:30.6px;top:677.1px;font-size:22.5px;letter-spacing:1.31px;font-weight:bold;color:#fff;-webkit-text-stroke:0.27px #fff;">2000米</div>
<div class="t" style="left:307.2px;top:756.1px;font-size:22.9px;letter-spacing:1.84px;font-weight:bold;color:#fff;-webkit-text-stroke:0.27px #fff;">45公里</div>
<div class="t" style="left:303.3px;top:356.8px;font-size:23.6px;letter-spacing:0.1px;font-weight:bold;-webkit-text-stroke:4.4px #000;text-stroke:4.4px #000;color:#000;">五級電站</div>
<div class="t" style="left:303.3px;top:356.8px;font-size:23.6px;letter-spacing:0.1px;font-weight:bold;-webkit-text-stroke:0.3px #fff;color:#fff;">五級電站</div>
<div class="t" style="left:406.2px;top:464.5px;font-size:23.6px;letter-spacing:0.1px;font-weight:bold;-webkit-text-stroke:4.4px #000;text-stroke:4.4px #000;color:#000;">四級電站</div>
<div class="t" style="left:406.2px;top:464.5px;font-size:23.6px;letter-spacing:0.1px;font-weight:bold;-webkit-text-stroke:0.3px #fff;color:#fff;">四級電站</div>
<div class="t" style="left:509.6px;top:569.2px;font-size:23.6px;letter-spacing:0.1px;font-weight:bold;-webkit-text-stroke:4.4px #000;text-stroke:4.4px #000;color:#000;">三級電站</div>
<div class="t" style="left:509.6px;top:569.2px;font-size:23.6px;letter-spacing:0.1px;font-weight:bold;-webkit-text-stroke:0.3px #fff;color:#fff;">三級電站</div>
<div class="t" style="left:611.3px;top:679.2px;font-size:23.6px;letter-spacing:0.1px;font-weight:bold;-webkit-text-stroke:4.4px #000;text-stroke:4.4px #000;color:#000;">二級電站</div>
<div class="t" style="left:611.3px;top:679.2px;font-size:23.6px;letter-spacing:0.1px;font-weight:bold;-webkit-text-stroke:0.3px #fff;color:#fff;">二級電站</div>
<div class="t" style="left:718.5px;top:784.7px;font-size:23.6px;letter-spacing:0.1px;font-weight:bold;-webkit-text-stroke:4.4px #000;text-stroke:4.4px #000;color:#000;">一級電站</div>
<div class="t" style="left:718.5px;top:784.7px;font-size:23.6px;letter-spacing:0.1px;font-weight:bold;-webkit-text-stroke:0.3px #fff;color:#fff;">一級電站</div>
<div class="t" style="left:916.3px;top:978.2px;font-size:24.4px;letter-spacing:-0.18px;font-weight:normal;color:#231815;">工程下游</div>
<div class="t" style="left:844.8px;top:1135.1px;font-size:23.2px;letter-spacing:0.88px;font-weight:normal;color:#231815;">註：圖示為理論值</div>
<div class="t" style="left:143.5px;top:821.4px;font-size:40.0px;letter-spacing:3.1px;font-weight:bold;color:#fff;-webkit-text-stroke:0.48px #fff;">雅江水電站位置圖</div>
<div class="t" style="left:170.0px;top:892.5px;font-size:33.0px;letter-spacing:-1.26px;font-weight:bold;color:#fff;-webkit-text-stroke:0.4px #fff;">藏木</div>
<div class="t" style="left:155.6px;top:928.9px;font-size:32.2px;letter-spacing:-2.26px;font-weight:bold;color:#fff;-webkit-text-stroke:0.39px #fff;">水電站</div>
<div class="t" style="left:272.2px;top:888.2px;font-size:22.6px;letter-spacing:0.48px;font-weight:bold;color:#fff;-webkit-text-stroke:0.27px #fff;">投產時間：2014年11月23日</div>
<div class="t" style="left:271.9px;top:918.3px;font-size:22.5px;letter-spacing:0.46px;font-weight:bold;color:#fff;-webkit-text-stroke:0.27px #fff;">年均發電量：25億千瓦時</div>
<div class="t" style="left:272.0px;top:945.1px;font-size:22.6px;letter-spacing:0.5px;font-weight:bold;color:#fff;-webkit-text-stroke:0.27px #fff;">位置：雅江中游</div>
<div class="t" style="left:361.7px;top:1009.7px;font-size:32.6px;letter-spacing:1.77px;font-weight:bold;color:#231815;-webkit-text-stroke:0.39px #231815;">中國</div>
<div class="t" style="left:389.6px;top:1094.6px;font-size:20.4px;letter-spacing:0.85px;font-weight:normal;color:#231815;">西藏</div>
<div class="t" style="left:214.3px;top:1094.8px;font-size:25.7px;letter-spacing:-0.4px;font-weight:normal;color:#1b75bc;">雅魯藏布江</div>
<div class="t" style="left:494.1px;top:1139.7px;font-size:21.6px;letter-spacing:1.38px;font-weight:normal;color:#231815;">藏南</div>
<div class="t" style="left:494.5px;top:1163.2px;font-size:21.7px;letter-spacing:0.74px;font-weight:normal;color:#231815;">地區</div>
<div class="t" style="left:380.2px;top:1156.3px;font-size:28.2px;letter-spacing:0.54px;font-weight:bold;color:#231815;-webkit-text-stroke:0.34px #231815;">不丹</div>
<div class="t" style="left:196.9px;top:1172.0px;font-size:29.2px;letter-spacing:-0.08px;font-weight:bold;color:#231815;-webkit-text-stroke:0.35px #231815;">尼泊爾</div>
<div class="t" style="left:411.0px;top:1217.7px;font-size:22.4px;letter-spacing:-0.48px;font-weight:normal;color:#231815;">阿薩姆邦</div>
<div class="t" style="left:225.5px;top:1310.3px;font-size:28.2px;letter-spacing:3.08px;font-weight:bold;color:#231815;-webkit-text-stroke:0.34px #231815;">印度</div>
<div class="t" style="left:603.6px;top:1362.3px;font-size:28.7px;letter-spacing:0.67px;font-weight:bold;color:#231815;-webkit-text-stroke:0.34px #231815;">緬甸</div>
<div class="t" style="left:370.5px;top:1287px;font-size:29.5px;font-weight:bold;color:#231815;line-height:28px;width:30px;white-space:normal;-webkit-text-stroke:0.4px #231815">孟加拉國</div>
<div class="t" style="left:641.6px;top:1202.1px;font-size:29.9px;letter-spacing:1.68px;font-weight:bold;color:#fff;-webkit-text-stroke:0.36px #fff;">雅魯藏布江下游水電站</div>
<div class="t" style="left:737.0px;top:1239.1px;font-size:29.3px;letter-spacing:1.92px;font-weight:bold;color:#fff;-webkit-text-stroke:0.35px #fff;">規劃位置</div>
<div class="t" style="left:624.2px;top:1291.0px;font-size:21.4px;letter-spacing:0.94px;font-weight:bold;color:#fff;-webkit-text-stroke:0.26px #fff;">年均發電量：預計近3000億千瓦時</div>
<div class="t" style="left:30.8px;top:1414.5px;font-size:23.2px;letter-spacing:-0.14px;font-weight:normal;color:#231815;">掃一掃有片睇</div>
</body></html>
